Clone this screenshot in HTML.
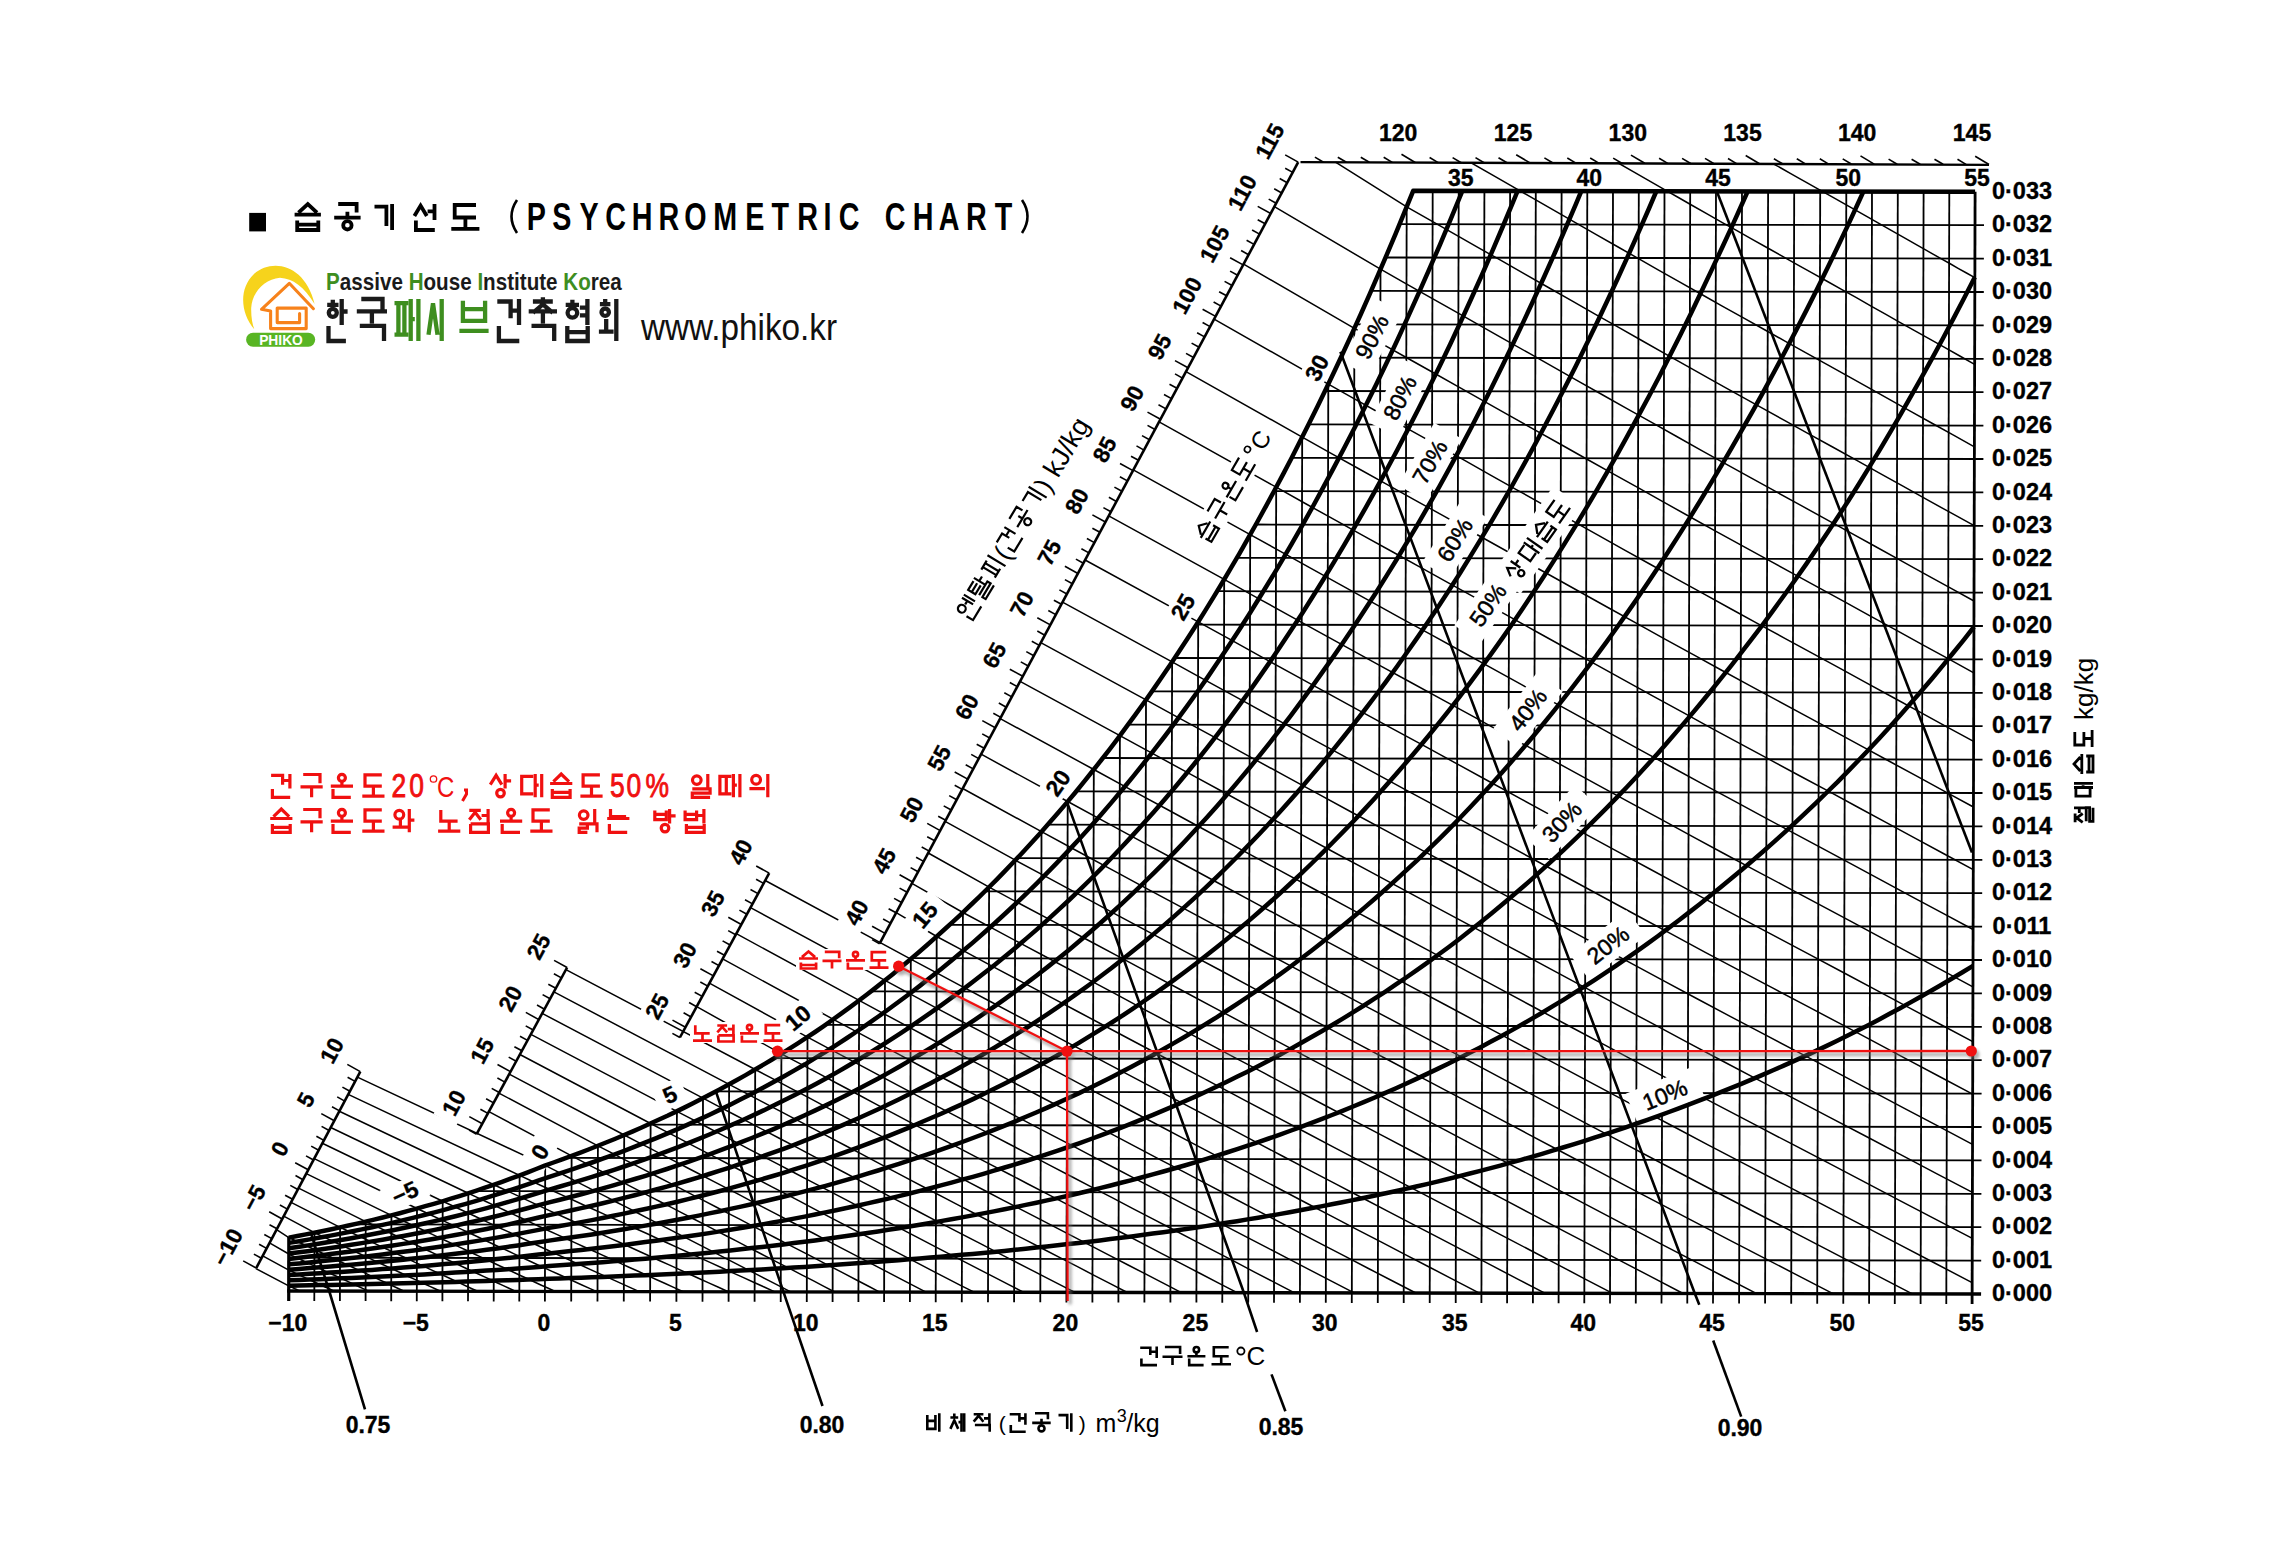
<!DOCTYPE html>
<html><head><meta charset="utf-8"><title>Psychrometric chart</title><style>html,body{margin:0;padding:0;background:#fff;width:2272px;height:1557px;overflow:hidden}</style></head>
<body><svg width="2272" height="1557" viewBox="0 0 2272 1557" style="display:block">
<rect width="2272" height="1557" fill="#fff"/>
<g><path d="M255.9,1268.6 L288.7,1285.8 L289.2,1286.0 L289.6,1286.2 L290.1,1286.5 L290.6,1286.7 L291.1,1286.9 L291.5,1287.1 L292.0,1287.3 L292.5,1287.5 L292.9,1287.8 L293.4,1288.0 L293.9,1288.2 L294.3,1288.4 L294.8,1288.6 L295.3,1288.8 L295.7,1289.1 L296.2,1289.3 L296.7,1289.5 L297.1,1289.7 L297.6,1289.9 L298.1,1290.2 L298.5,1290.4 L299.0,1290.6 L299.5,1290.8 L299.9,1291.0" fill="none" stroke="#000" stroke-width="1.5" /><path d="M262.7,1255.9 L288.8,1270.1 L290.6,1271.0 L292.5,1271.8 L294.4,1272.7 L296.3,1273.6 L298.2,1274.5 L300.0,1275.3 L301.9,1276.2 L303.8,1277.1 L305.7,1278.0 L307.6,1278.8 L309.5,1279.7 L311.3,1280.6 L313.2,1281.5 L315.1,1282.3 L317.0,1283.2 L318.9,1284.1 L320.7,1285.0 L322.6,1285.8 L324.5,1286.7 L326.4,1287.6 L328.3,1288.5 L330.2,1289.3 L332.0,1290.2 L333.9,1291.1" fill="none" stroke="#000" stroke-width="1.5" /><path d="M269.5,1242.9 L288.8,1254.0 L292.1,1255.6 L295.5,1257.1 L298.8,1258.7 L302.1,1260.2 L305.4,1261.8 L308.8,1263.3 L312.1,1264.9 L315.4,1266.4 L318.7,1268.0 L322.1,1269.5 L325.4,1271.1 L328.7,1272.6 L332.0,1274.2 L335.4,1275.7 L338.7,1277.2 L342.0,1278.8 L345.3,1280.3 L348.7,1281.9 L352.0,1283.4 L355.3,1285.0 L358.6,1286.5 L362.0,1288.1 L365.3,1289.6 L368.6,1291.1" fill="none" stroke="#000" stroke-width="1.5" /><path d="M276.6,1229.7 L288.8,1237.6 L293.6,1239.8 L298.4,1242.1 L303.2,1244.3 L308.1,1246.5 L312.9,1248.8 L317.7,1251.0 L322.5,1253.3 L327.3,1255.5 L332.1,1257.7 L336.9,1260.0 L341.7,1262.2 L346.5,1264.4 L351.3,1266.7 L356.1,1268.9 L360.9,1271.1 L365.7,1273.4 L370.5,1275.6 L375.3,1277.8 L380.1,1280.1 L384.9,1282.3 L389.7,1284.5 L394.5,1286.8 L399.3,1289.0 L404.1,1291.2" fill="none" stroke="#000" stroke-width="1.5" /><path d="M283.7,1216.1 L314.5,1232.7 L319.7,1235.1 L325.0,1237.6 L330.2,1240.0 L335.5,1242.5 L340.7,1244.9 L346.0,1247.4 L351.2,1249.8 L356.4,1252.2 L361.7,1254.7 L366.9,1257.1 L372.2,1259.6 L377.4,1262.0 L382.7,1264.5 L387.9,1266.9 L393.2,1269.3 L398.4,1271.8 L403.7,1274.2 L408.9,1276.7 L414.2,1279.1 L419.4,1281.5 L424.7,1284.0 L429.9,1286.4 L435.1,1288.8 L440.4,1291.3" fill="none" stroke="#000" stroke-width="1.5" /><path d="M291.1,1202.3 L340.1,1227.3 L345.8,1230.0 L351.6,1232.7 L357.3,1235.4 L363.0,1238.0 L368.8,1240.7 L374.5,1243.4 L380.2,1246.1 L385.9,1248.7 L391.7,1251.4 L397.4,1254.1 L403.1,1256.7 L408.9,1259.4 L414.6,1262.1 L420.3,1264.7 L426.0,1267.4 L431.8,1270.1 L437.5,1272.7 L443.2,1275.4 L449.0,1278.0 L454.7,1280.7 L460.4,1283.4 L466.1,1286.0 L471.9,1288.7 L477.6,1291.3" fill="none" stroke="#000" stroke-width="1.5" /><path d="M298.6,1188.1 L365.7,1221.6 L372.0,1224.5 L378.3,1227.4 L384.5,1230.3 L390.8,1233.2 L397.0,1236.2 L403.3,1239.1 L409.5,1242.0 L415.8,1244.9 L422.0,1247.8 L428.3,1250.7 L434.5,1253.6 L440.8,1256.6 L447.0,1259.5 L453.3,1262.4 L459.5,1265.3 L465.8,1268.2 L472.0,1271.1 L478.3,1274.0 L484.5,1276.9 L490.8,1279.8 L497.0,1282.7 L503.3,1285.6 L509.5,1288.5 L515.8,1291.4" fill="none" stroke="#000" stroke-width="1.5" /><path d="M306.3,1173.6 L391.4,1215.3 L398.2,1218.5 L405.0,1221.7 L411.8,1224.9 L418.7,1228.0 L425.5,1231.2 L432.3,1234.4 L439.1,1237.6 L445.9,1240.8 L452.7,1243.9 L459.6,1247.1 L466.4,1250.3 L473.2,1253.5 L480.0,1256.6 L486.8,1259.8 L493.6,1263.0 L500.5,1266.2 L507.3,1269.3 L514.1,1272.5 L520.9,1275.7 L527.7,1278.8 L534.5,1282.0 L541.4,1285.2 L548.3,1288.3 L555.3,1291.5" fill="none" stroke="#000" stroke-width="1.5" /><path d="M314.2,1158.7 L417.0,1208.5 L424.5,1212.0 L431.9,1215.5 L439.3,1218.9 L446.7,1222.4 L454.2,1225.9 L461.6,1229.4 L469.0,1232.8 L476.5,1236.3 L483.9,1239.8 L491.3,1243.2 L498.7,1246.7 L506.2,1250.1 L513.6,1253.6 L521.0,1257.1 L528.5,1260.5 L535.9,1264.0 L543.3,1267.4 L550.9,1270.9 L558.5,1274.3 L566.2,1277.8 L573.8,1281.2 L581.4,1284.7 L589.0,1288.1 L596.7,1291.6" fill="none" stroke="#000" stroke-width="1.5" /><path d="M322.3,1143.3 L442.7,1201.2 L450.8,1205.0 L458.8,1208.8 L466.9,1212.5 L475.0,1216.3 L483.1,1220.1 L491.2,1223.9 L499.3,1227.7 L507.4,1231.4 L515.5,1235.2 L523.6,1239.0 L531.7,1242.8 L539.8,1246.5 L547.9,1250.3 L556.2,1254.1 L564.6,1257.8 L572.9,1261.6 L581.2,1265.3 L589.5,1269.1 L597.8,1272.9 L606.1,1276.6 L614.4,1280.4 L622.7,1284.1 L631.0,1287.9 L639.3,1291.6" fill="none" stroke="#000" stroke-width="1.5" /><path d="M330.7,1127.5 L468.3,1193.3 L477.1,1197.4 L485.9,1201.5 L494.7,1205.6 L503.5,1209.7 L512.3,1213.9 L521.2,1218.0 L530.0,1222.1 L538.8,1226.2 L547.6,1230.3 L556.7,1234.4 L565.7,1238.5 L574.8,1242.6 L583.8,1246.7 L592.9,1250.8 L601.9,1254.9 L610.9,1259.0 L620.0,1263.1 L629.0,1267.2 L638.1,1271.3 L647.1,1275.4 L656.2,1279.5 L665.2,1283.5 L674.2,1287.6 L683.2,1291.7" fill="none" stroke="#000" stroke-width="1.5" /><path d="M339.3,1111.2 L493.9,1184.7 L503.5,1189.2 L513.1,1193.6 L522.7,1198.1 L532.3,1202.6 L541.9,1207.1 L551.6,1211.6 L561.4,1216.0 L571.3,1220.5 L581.1,1225.0 L591.0,1229.5 L600.8,1233.9 L610.6,1238.4 L620.5,1242.8 L630.3,1247.3 L640.1,1251.8 L650.0,1256.2 L659.8,1260.7 L669.7,1265.1 L679.5,1269.6 L689.2,1274.0 L699.0,1278.5 L708.7,1282.9 L718.5,1287.3 L728.2,1291.8" fill="none" stroke="#000" stroke-width="1.5" /><path d="M348.2,1094.4 L519.6,1175.4 L530.0,1180.3 L540.4,1185.2 L551.0,1190.0 L561.7,1194.9 L572.4,1199.8 L583.1,1204.7 L593.8,1209.5 L604.5,1214.4 L615.2,1219.3 L625.9,1224.1 L636.6,1229.0 L647.3,1233.8 L657.9,1238.7 L668.6,1243.5 L679.3,1248.4 L689.9,1253.2 L700.5,1258.1 L711.1,1262.9 L721.7,1267.7 L732.3,1272.6 L743.0,1277.4 L753.6,1282.2 L764.2,1287.0 L774.8,1291.9" fill="none" stroke="#000" stroke-width="1.5" /><path d="M357.4,1077.1 L545.2,1165.4 L555.5,1170.7 L565.8,1176.0 L576.0,1181.3 L586.3,1186.6 L596.6,1191.9 L606.9,1197.2 L617.1,1202.5 L627.4,1207.7 L637.7,1213.0 L647.9,1218.3 L658.2,1223.6 L668.5,1228.9 L678.7,1234.1 L688.9,1239.4 L699.1,1244.7 L709.3,1249.9 L719.5,1255.2 L729.6,1260.4 L739.8,1265.7 L750.0,1270.9 L760.2,1276.2 L770.4,1281.4 L780.6,1286.7 L790.7,1291.9" fill="none" stroke="#000" stroke-width="1.5" /><path d="M488.9,1111.6 L571.6,1155.9 L582.6,1161.6 L593.6,1167.3 L604.7,1173.0 L615.7,1178.7 L626.7,1184.4 L637.8,1190.1 L648.8,1195.8 L659.8,1201.5 L670.9,1207.2 L681.9,1212.8 L692.8,1218.5 L703.8,1224.2 L714.7,1229.9 L725.6,1235.5 L736.6,1241.2 L747.5,1246.8 L758.5,1252.5 L769.4,1258.1 L780.4,1263.8 L791.3,1269.4 L802.2,1275.1 L813.1,1280.7 L823.9,1286.3 L834.7,1292.0" fill="none" stroke="#000" stroke-width="1.5" /><path d="M498.9,1093.1 L597.9,1145.8 L609.7,1151.9 L621.6,1158.1 L633.4,1164.2 L645.3,1170.3 L657.1,1176.5 L669.0,1182.6 L680.8,1188.7 L692.6,1194.8 L704.3,1200.9 L716.1,1207.0 L727.8,1213.1 L739.6,1219.2 L751.3,1225.3 L763.1,1231.4 L774.8,1237.5 L786.6,1243.6 L798.3,1249.6 L810.0,1255.7 L821.7,1261.8 L833.3,1267.8 L844.9,1273.9 L856.5,1280.0 L868.1,1286.0 L879.7,1292.1" fill="none" stroke="#000" stroke-width="1.5" /><path d="M509.2,1074.1 L624.2,1135.0 L636.9,1141.6 L649.7,1148.2 L662.4,1154.8 L675.1,1161.4 L687.7,1168.0 L700.3,1174.5 L713.0,1181.1 L725.6,1187.7 L738.2,1194.2 L750.8,1200.8 L763.4,1207.4 L776.0,1213.9 L788.6,1220.5 L801.2,1227.0 L813.8,1233.5 L826.2,1240.1 L838.7,1246.6 L851.2,1253.1 L863.6,1259.6 L876.1,1266.1 L888.6,1272.6 L901.0,1279.1 L913.5,1285.6 L926.0,1292.1" fill="none" stroke="#000" stroke-width="1.5" /><path d="M519.9,1054.5 L650.6,1123.5 L664.2,1130.6 L677.8,1137.7 L691.4,1144.8 L704.9,1151.8 L718.4,1158.9 L732.0,1166.0 L745.5,1173.0 L759.0,1180.1 L772.5,1187.1 L786.1,1194.2 L799.6,1201.2 L813.1,1208.3 L826.4,1215.3 L839.8,1222.3 L853.2,1229.3 L866.6,1236.3 L879.9,1243.3 L893.3,1250.3 L906.7,1257.3 L920.1,1264.3 L933.4,1271.3 L947.0,1278.3 L960.5,1285.3 L974.1,1292.2" fill="none" stroke="#000" stroke-width="1.5" /><path d="M530.9,1034.3 L676.9,1111.3 L691.4,1118.9 L705.9,1126.5 L720.4,1134.1 L734.9,1141.7 L749.4,1149.3 L763.9,1156.9 L778.4,1164.4 L792.9,1172.0 L807.4,1179.6 L821.8,1187.1 L836.1,1194.7 L850.5,1202.2 L864.8,1209.8 L879.1,1217.3 L893.5,1224.8 L907.8,1232.4 L922.2,1239.9 L936.5,1247.4 L951.0,1254.9 L965.6,1262.4 L980.1,1269.9 L994.7,1277.4 L1009.2,1284.8 L1023.8,1292.3" fill="none" stroke="#000" stroke-width="1.5" /><path d="M542.2,1013.4 L703.0,1098.2 L718.5,1106.4 L734.1,1114.5 L749.6,1122.7 L765.2,1130.9 L780.7,1139.0 L796.3,1147.1 L811.8,1155.3 L827.1,1163.4 L842.5,1171.5 L857.9,1179.6 L873.2,1187.7 L888.6,1195.8 L904.0,1203.9 L919.3,1212.0 L934.7,1220.1 L950.3,1228.1 L965.8,1236.2 L981.4,1244.2 L997.0,1252.3 L1012.6,1260.3 L1028.2,1268.3 L1043.7,1276.4 L1059.3,1284.4 L1074.9,1292.4" fill="none" stroke="#000" stroke-width="1.5" /><path d="M553.9,991.9 L729.1,1084.3 L745.8,1093.1 L762.4,1101.8 L779.1,1110.6 L795.7,1119.3 L812.3,1128.1 L828.8,1136.8 L845.2,1145.5 L861.7,1154.2 L878.1,1162.9 L894.6,1171.6 L911.1,1180.3 L927.5,1189.0 L944.1,1197.7 L960.8,1206.3 L977.5,1215.0 L994.1,1223.6 L1010.8,1232.3 L1027.5,1240.9 L1044.2,1249.5 L1060.9,1258.1 L1077.5,1266.7 L1094.1,1275.3 L1110.7,1283.9 L1127.3,1292.5" fill="none" stroke="#000" stroke-width="1.5" /><path d="M565.9,969.6 L755.2,1069.5 L773.1,1078.9 L790.9,1088.3 L808.7,1097.7 L826.3,1107.1 L843.9,1116.4 L861.5,1125.8 L879.2,1135.1 L896.8,1144.5 L914.4,1153.8 L932.0,1163.1 L949.8,1172.4 L967.7,1181.7 L985.6,1191.0 L1003.4,1200.3 L1021.3,1209.6 L1039.2,1218.8 L1057.0,1228.1 L1074.8,1237.3 L1092.6,1246.6 L1110.4,1255.8 L1128.1,1265.0 L1145.9,1274.2 L1163.7,1283.4 L1181.4,1292.6" fill="none" stroke="#000" stroke-width="1.5" /><path d="M696.7,1006.7 L781.4,1053.8 L800.4,1063.9 L819.4,1073.9 L838.2,1084.0 L857.1,1094.0 L875.9,1104.1 L894.8,1114.1 L913.6,1124.1 L932.5,1134.1 L951.5,1144.1 L970.6,1154.1 L989.8,1164.1 L1008.9,1174.0 L1028.0,1184.0 L1047.1,1193.9 L1066.2,1203.8 L1085.2,1213.7 L1104.2,1223.6 L1123.3,1233.5 L1142.3,1243.4 L1161.3,1253.3 L1180.3,1263.2 L1199.3,1273.0 L1218.2,1282.9 L1237.1,1292.7" fill="none" stroke="#000" stroke-width="1.5" /><path d="M709.4,983.2 L807.5,1037.1 L827.6,1047.9 L847.8,1058.6 L868.0,1069.4 L888.1,1080.2 L908.3,1090.9 L928.4,1101.7 L948.8,1112.4 L969.2,1123.1 L989.7,1133.8 L1010.1,1144.5 L1030.5,1155.2 L1051.0,1165.8 L1071.4,1176.5 L1091.7,1187.1 L1112.1,1197.7 L1132.4,1208.3 L1152.7,1218.9 L1173.1,1229.5 L1193.4,1240.1 L1213.6,1250.7 L1233.9,1261.2 L1254.1,1271.8 L1274.4,1282.3 L1294.6,1292.8" fill="none" stroke="#000" stroke-width="1.5" /><path d="M722.6,958.9 L833.3,1019.3 L854.9,1030.8 L876.4,1042.4 L898.0,1053.9 L919.5,1065.5 L941.1,1077.0 L963.0,1088.5 L984.8,1099.9 L1006.7,1111.4 L1028.5,1122.8 L1050.4,1134.3 L1072.2,1145.7 L1093.9,1157.1 L1115.7,1168.5 L1137.4,1179.9 L1159.1,1191.2 L1180.9,1202.6 L1202.6,1213.9 L1224.2,1225.3 L1245.8,1236.6 L1267.5,1247.9 L1289.1,1259.1 L1310.7,1270.4 L1332.4,1281.7 L1354.1,1292.9" fill="none" stroke="#000" stroke-width="1.5" /><path d="M736.3,933.7 L859.1,1000.4 L882.2,1012.8 L905.2,1025.1 L928.2,1037.5 L951.4,1049.8 L974.8,1062.1 L998.1,1074.4 L1021.5,1086.7 L1044.8,1099.0 L1068.2,1111.2 L1091.4,1123.5 L1114.6,1135.7 L1137.8,1147.9 L1161.0,1160.1 L1184.3,1172.2 L1207.4,1184.4 L1230.5,1196.5 L1253.6,1208.6 L1276.8,1220.7 L1299.9,1232.8 L1323.0,1244.9 L1346.2,1256.9 L1369.4,1269.0 L1392.6,1281.0 L1415.8,1293.0" fill="none" stroke="#000" stroke-width="1.5" /><path d="M750.5,907.6 L885.0,980.4 L909.6,993.6 L934.2,1006.8 L959.0,1020.0 L984.0,1033.2 L1008.9,1046.4 L1033.8,1059.6 L1058.8,1072.7 L1083.6,1085.8 L1108.4,1098.9 L1133.2,1112.0 L1158.0,1125.0 L1182.8,1138.1 L1207.5,1151.1 L1232.2,1164.1 L1256.9,1177.1 L1281.6,1190.0 L1306.3,1203.0 L1331.0,1215.9 L1355.7,1228.8 L1380.5,1241.7 L1405.3,1254.6 L1430.1,1267.5 L1454.8,1280.3 L1479.4,1293.1" fill="none" stroke="#000" stroke-width="1.5" /><path d="M765.2,880.5 L910.8,959.1 L937.1,973.2 L963.7,987.4 L990.3,1001.5 L1016.9,1015.6 L1043.5,1029.7 L1070.1,1043.8 L1096.6,1057.8 L1123.0,1071.8 L1149.5,1085.8 L1176.0,1099.8 L1202.4,1113.7 L1228.8,1127.7 L1255.1,1141.6 L1281.4,1155.5 L1307.8,1169.3 L1334.2,1183.2 L1360.6,1197.0 L1387.1,1210.8 L1413.5,1224.6 L1440.0,1238.4 L1466.3,1252.1 L1492.5,1265.9 L1518.7,1279.6 L1544.8,1293.2" fill="none" stroke="#000" stroke-width="1.5" /><path d="M896.2,912.6 L936.7,936.5 L965.1,951.6 L993.4,966.8 L1021.8,981.9 L1050.2,996.9 L1078.6,1012.0 L1106.8,1027.0 L1135.0,1042.0 L1163.3,1057.0 L1191.5,1071.9 L1219.6,1086.9 L1247.7,1101.8 L1275.9,1116.7 L1304.0,1131.5 L1332.1,1146.3 L1360.3,1161.2 L1388.5,1175.9 L1416.7,1190.7 L1445.0,1205.4 L1473.0,1220.1 L1500.9,1234.8 L1528.9,1249.5 L1556.8,1264.1 L1584.7,1278.8 L1612.7,1293.4" fill="none" stroke="#000" stroke-width="1.5" /><path d="M911.9,883.4 L962.9,912.5 L993.1,928.7 L1023.4,944.9 L1053.7,961.0 L1083.9,977.1 L1114.0,993.2 L1144.1,1009.3 L1174.2,1025.3 L1204.3,1041.3 L1234.3,1057.3 L1264.3,1073.2 L1294.2,1089.1 L1324.2,1105.0 L1354.3,1120.8 L1384.4,1136.7 L1414.5,1152.5 L1444.6,1168.3 L1474.5,1184.0 L1504.3,1199.7 L1534.1,1215.4 L1563.9,1231.1 L1593.7,1246.7 L1623.5,1262.3 L1653.3,1277.9 L1683.1,1293.5" fill="none" stroke="#000" stroke-width="1.5" /><path d="M928.2,853.0 L989.1,887.2 L1021.3,904.5 L1053.6,921.7 L1085.8,939.0 L1117.9,956.2 L1150.0,973.3 L1182.1,990.5 L1214.1,1007.6 L1246.1,1024.6 L1278.0,1041.7 L1310.0,1058.7 L1342.0,1075.7 L1374.1,1092.6 L1406.2,1109.6 L1438.2,1126.4 L1470.2,1143.3 L1501.9,1160.1 L1533.7,1176.9 L1565.4,1193.7 L1597.2,1210.4 L1629.0,1227.1 L1660.8,1243.8 L1692.6,1260.4 L1724.5,1277.0 L1756.7,1293.6" fill="none" stroke="#000" stroke-width="1.5" /><path d="M945.1,821.4 L1015.3,860.2 L1049.7,878.7 L1084.0,897.2 L1118.2,915.6 L1152.4,933.9 L1186.6,952.3 L1220.7,970.5 L1254.7,988.8 L1288.8,1007.0 L1322.8,1025.2 L1357.0,1043.4 L1391.2,1061.5 L1425.4,1079.6 L1459.5,1097.6 L1493.4,1115.6 L1527.2,1133.6 L1561.0,1151.5 L1594.9,1169.4 L1628.7,1187.3 L1662.6,1205.1 L1696.5,1222.9 L1730.5,1240.7 L1764.8,1258.4 L1799.1,1276.1 L1833.4,1293.8" fill="none" stroke="#000" stroke-width="1.5" /><path d="M962.7,788.5 L1041.5,831.7 L1078.1,851.5 L1114.5,871.1 L1150.9,890.8 L1187.4,910.4 L1223.7,929.9 L1259.9,949.5 L1296.2,968.9 L1332.5,988.4 L1368.9,1007.8 L1405.3,1027.1 L1441.7,1046.4 L1477.9,1065.7 L1513.9,1084.9 L1550.0,1104.1 L1586.0,1123.3 L1622.1,1142.4 L1658.2,1161.5 L1694.2,1180.5 L1730.5,1199.5 L1767.0,1218.5 L1803.6,1237.4 L1840.1,1256.3 L1876.2,1275.1 L1912.3,1293.9" fill="none" stroke="#000" stroke-width="1.5" /><path d="M981.1,754.2 L1067.7,801.5 L1105.6,822.1 L1143.4,842.6 L1181.3,863.0 L1219.1,883.5 L1256.8,903.8 L1294.4,924.2 L1332.2,944.4 L1370.0,964.7 L1407.8,984.9 L1445.7,1005.0 L1483.2,1025.1 L1520.7,1045.2 L1558.1,1065.2 L1595.6,1085.2 L1633.1,1105.1 L1670.6,1125.0 L1708.0,1144.8 L1745.9,1164.7 L1783.9,1184.4 L1821.8,1204.1 L1859.6,1223.8 L1897.1,1243.4 L1934.6,1263.0 L1972.1,1282.6" fill="none" stroke="#000" stroke-width="1.5" /><path d="M1000.2,718.6 L1093.8,769.5 L1130.6,789.6 L1167.4,809.5 L1204.1,829.5 L1240.7,849.4 L1277.3,869.2 L1314.0,889.0 L1350.7,908.8 L1387.4,928.5 L1424.2,948.2 L1460.9,967.8 L1497.2,987.4 L1533.6,1007.0 L1570.0,1026.5 L1606.4,1045.9 L1642.8,1065.4 L1679.2,1084.8 L1715.7,1104.1 L1752.5,1123.4 L1789.4,1142.7 L1826.3,1161.9 L1862.9,1181.1 L1899.4,1200.3 L1935.8,1219.4 L1972.3,1238.4" fill="none" stroke="#000" stroke-width="1.5" /><path d="M1020.1,681.4 L1119.9,735.7 L1155.6,755.2 L1191.3,774.6 L1226.9,794.0 L1262.4,813.4 L1297.9,832.7 L1333.5,852.0 L1369.2,871.2 L1404.8,890.4 L1440.5,909.6 L1476.0,928.7 L1511.3,947.8 L1546.6,966.8 L1581.9,985.8 L1617.3,1004.8 L1652.6,1023.7 L1687.9,1042.6 L1723.4,1061.5 L1759.2,1080.3 L1795.0,1099.1 L1830.7,1117.8 L1866.3,1136.5 L1901.6,1155.2 L1937.0,1173.8 L1972.4,1192.4" fill="none" stroke="#000" stroke-width="1.5" /><path d="M1040.8,642.6 L1146.0,699.9 L1180.6,718.8 L1215.2,737.7 L1249.6,756.6 L1284.1,775.4 L1318.5,794.2 L1353.1,813.0 L1387.7,831.7 L1422.3,850.4 L1456.8,869.0 L1491.1,887.6 L1525.3,906.2 L1559.6,924.7 L1593.8,943.2 L1628.1,961.7 L1662.4,980.1 L1696.6,998.5 L1731.1,1016.8 L1765.8,1035.2 L1800.5,1053.4 L1835.2,1071.7 L1869.6,1089.9 L1903.9,1108.1 L1938.2,1126.2 L1972.5,1144.3" fill="none" stroke="#000" stroke-width="1.5" /><path d="M1062.5,602.2 L1172.1,661.9 L1205.6,680.4 L1239.0,698.7 L1272.4,717.1 L1305.7,735.4 L1339.2,753.6 L1372.7,771.9 L1406.2,790.1 L1439.7,808.2 L1473.0,826.4 L1506.2,844.4 L1539.4,862.5 L1572.6,880.5 L1605.7,898.5 L1638.9,916.5 L1672.1,934.4 L1705.3,952.3 L1738.8,970.1 L1772.5,987.9 L1806.1,1005.7 L1839.7,1023.4 L1873.0,1041.1 L1906.2,1058.8 L1939.4,1076.5 L1972.6,1094.1" fill="none" stroke="#000" stroke-width="1.5" /><path d="M1085.1,560.0 L1198.2,621.8 L1230.5,639.7 L1262.8,657.6 L1295.1,675.4 L1327.4,693.1 L1359.8,710.9 L1392.3,728.6 L1424.7,746.2 L1457.1,763.9 L1489.2,781.5 L1521.3,799.1 L1553.4,816.6 L1585.5,834.1 L1617.7,851.6 L1649.8,869.0 L1681.9,886.4 L1714.1,903.8 L1746.6,921.1 L1779.1,938.4 L1811.6,955.7 L1844.2,973.0 L1876.3,990.2 L1908.5,1007.4 L1940.6,1024.5 L1972.8,1041.6" fill="none" stroke="#000" stroke-width="1.5" /><path d="M1108.7,515.9 L1224.2,579.4 L1255.4,596.8 L1286.7,614.1 L1317.9,631.3 L1349.2,648.6 L1380.5,665.8 L1411.9,683.0 L1443.2,700.1 L1474.4,717.2 L1505.4,734.3 L1536.5,751.3 L1567.5,768.4 L1598.5,785.4 L1629.6,802.3 L1660.7,819.2 L1691.7,836.1 L1722.9,853.0 L1754.3,869.8 L1785.8,886.6 L1817.2,903.4 L1848.6,920.2 L1879.7,936.9 L1910.8,953.6 L1941.8,970.2 L1972.9,986.8" fill="none" stroke="#000" stroke-width="1.5" /><path d="M1133.3,469.9 L1250.2,534.6 L1280.4,551.4 L1310.5,568.2 L1340.7,584.9 L1371.0,601.6 L1401.2,618.3 L1431.5,634.9 L1461.7,651.5 L1491.7,668.1 L1521.6,684.7 L1551.6,701.2 L1581.6,717.7 L1611.5,734.2 L1641.5,750.6 L1671.5,767.0 L1701.5,783.4 L1731.7,799.7 L1762.1,816.1 L1792.4,832.4 L1822.8,848.6 L1853.0,864.9 L1883.1,881.1 L1913.1,897.3 L1943.1,913.4 L1973.1,929.5" fill="none" stroke="#000" stroke-width="1.5" /><path d="M1159.1,421.8 L1276.2,487.2 L1305.3,503.5 L1334.4,519.7 L1363.6,535.9 L1392.8,552.0 L1421.9,568.2 L1451.1,584.3 L1480.1,600.4 L1509.0,616.4 L1537.9,632.5 L1566.8,648.5 L1595.7,664.4 L1624.6,680.4 L1653.5,696.3 L1682.4,712.2 L1711.3,728.1 L1740.5,743.9 L1769.8,759.7 L1799.1,775.5 L1828.4,791.2 L1857.5,807.0 L1886.4,822.7 L1915.4,838.4 L1944.3,854.0 L1973.2,869.6" fill="none" stroke="#000" stroke-width="1.5" /><path d="M1186.0,371.6 L1302.2,437.1 L1330.2,452.8 L1358.3,468.5 L1386.4,484.2 L1414.5,499.8 L1442.6,515.4 L1470.6,531.0 L1498.4,546.5 L1526.3,562.0 L1554.1,577.5 L1581.9,593.0 L1609.7,608.5 L1637.6,623.9 L1665.4,639.3 L1693.3,654.6 L1721.2,670.0 L1749.4,685.3 L1777.6,700.6 L1805.8,715.9 L1834.0,731.1 L1862.0,746.3 L1889.8,761.5 L1917.7,776.7 L1945.5,791.9 L1973.4,807.0" fill="none" stroke="#000" stroke-width="1.5" /><path d="M1214.1,319.1 L1328.3,384.2 L1355.3,399.4 L1382.3,414.5 L1409.3,429.6 L1436.3,444.7 L1463.3,459.7 L1490.1,474.8 L1516.8,489.8 L1543.6,504.8 L1570.3,519.7 L1597.1,534.7 L1623.8,549.6 L1650.6,564.5 L1677.4,579.4 L1704.2,594.2 L1731.1,609.0 L1758.2,623.8 L1785.3,638.6 L1812.5,653.4 L1839.6,668.1 L1866.4,682.8 L1893.2,697.5 L1920.0,712.2 L1946.8,726.8 L1973.6,741.4" fill="none" stroke="#000" stroke-width="1.5" /><path d="M1243.6,264.1 L1354.4,328.3 L1380.3,342.9 L1406.3,357.5 L1432.2,372.0 L1458.1,386.6 L1483.8,401.1 L1509.5,415.6 L1535.2,430.1 L1560.9,444.5 L1586.6,459.0 L1612.3,473.4 L1638.0,487.7 L1663.7,502.1 L1689.4,516.5 L1715.1,530.8 L1741.1,545.1 L1767.1,559.4 L1793.1,573.6 L1819.1,587.8 L1845.2,602.1 L1870.9,616.3 L1896.6,630.4 L1922.3,644.6 L1948.1,658.7 L1973.8,672.8" fill="none" stroke="#000" stroke-width="1.5" /><path d="M1274.4,206.6 L1380.5,269.2 L1405.4,283.3 L1430.2,297.3 L1455.1,311.3 L1479.7,325.3 L1504.4,339.3 L1529.0,353.2 L1553.6,367.2 L1578.2,381.1 L1602.8,395.0 L1627.4,408.9 L1652.1,422.7 L1676.7,436.5 L1701.3,450.3 L1726.1,464.1 L1751.0,477.9 L1776.0,491.7 L1800.9,505.4 L1825.8,519.1 L1850.7,532.8 L1875.4,546.5 L1900.0,560.1 L1924.7,573.8 L1949.3,587.4 L1974.0,601.0" fill="none" stroke="#000" stroke-width="1.5" /><path d="M1335.5,162.2 L1406.7,206.8 L1430.5,220.3 L1454.2,233.8 L1477.8,247.3 L1501.4,260.7 L1524.9,274.1 L1548.4,287.5 L1572.0,300.9 L1595.5,314.3 L1619.1,327.7 L1642.6,341.0 L1666.2,354.3 L1689.8,367.6 L1713.3,380.9 L1737.1,394.1 L1761.0,407.4 L1784.9,420.6 L1808.7,433.8 L1832.6,447.0 L1856.3,460.2 L1879.9,473.3 L1903.4,486.4 L1927.0,499.6 L1950.6,512.7 L1974.2,525.7" fill="none" stroke="#000" stroke-width="1.5" /><path d="M1476.2,162.7 L1470.9,162.7 L1491.8,174.7 L1512.7,186.7 L1533.6,198.7 L1554.5,210.7 L1575.4,222.6 L1596.3,234.6 L1617.2,246.5 L1638.1,258.4 L1659.0,270.3 L1679.9,282.2 L1700.9,294.0 L1721.8,305.9 L1743.0,317.7 L1764.2,329.5 L1785.4,341.3 L1806.5,353.1 L1827.7,364.9 L1848.8,376.6 L1869.8,388.4 L1890.7,400.1 L1911.6,411.8 L1932.5,423.5 L1953.5,435.2 L1974.4,446.9" fill="none" stroke="#000" stroke-width="1.5" /><path d="M1623.5,163.2 L1618.5,163.2 L1633.2,171.7 L1648.0,180.1 L1662.8,188.6 L1677.5,197.0 L1692.3,205.5 L1707.1,213.9 L1721.9,222.3 L1736.9,230.7 L1751.8,239.1 L1766.8,247.5 L1781.7,255.9 L1796.7,264.3 L1811.6,272.7 L1826.6,281.0 L1841.5,289.4 L1856.4,297.7 L1871.1,306.1 L1885.9,314.4 L1900.7,322.8 L1915.5,331.1 L1930.3,339.4 L1945.0,347.7 L1959.8,356.0 L1974.6,364.3" fill="none" stroke="#000" stroke-width="1.5" /><path d="M1777.9,163.8 L1773.3,163.8 L1781.8,168.5 L1790.3,173.3 L1798.7,178.1 L1807.2,182.9 L1815.6,187.6 L1824.1,192.4 L1832.6,197.1 L1841.0,201.9 L1849.4,206.7 L1857.8,211.4 L1866.2,216.2 L1874.5,220.9 L1882.9,225.6 L1891.2,230.4 L1899.6,235.1 L1908.0,239.9 L1916.3,244.6 L1924.7,249.3 L1933.0,254.1 L1941.4,258.8 L1949.8,263.5 L1958.1,268.3 L1966.5,273.0 L1974.8,277.7" fill="none" stroke="#000" stroke-width="1.5" /></g>
<g><line x1="314.3" y1="1301.0" x2="314.5" y2="1232.7" stroke="#000" stroke-width="1.8" /><line x1="339.9" y1="1301.1" x2="340.1" y2="1227.3" stroke="#000" stroke-width="1.8" /><line x1="365.6" y1="1301.1" x2="365.7" y2="1221.6" stroke="#000" stroke-width="1.8" /><line x1="391.2" y1="1301.2" x2="391.4" y2="1215.3" stroke="#000" stroke-width="1.8" /><line x1="416.8" y1="1301.2" x2="417.0" y2="1208.5" stroke="#000" stroke-width="1.8" /><line x1="442.4" y1="1301.3" x2="442.7" y2="1201.2" stroke="#000" stroke-width="1.8" /><line x1="468.0" y1="1301.3" x2="468.3" y2="1193.3" stroke="#000" stroke-width="1.8" /><line x1="493.7" y1="1301.4" x2="493.9" y2="1184.7" stroke="#000" stroke-width="1.8" /><line x1="519.3" y1="1301.4" x2="519.6" y2="1175.4" stroke="#000" stroke-width="1.8" /><line x1="544.9" y1="1301.5" x2="545.2" y2="1165.4" stroke="#000" stroke-width="1.8" /><line x1="571.2" y1="1301.5" x2="571.6" y2="1155.9" stroke="#000" stroke-width="1.8" /><line x1="597.5" y1="1301.6" x2="597.9" y2="1145.8" stroke="#000" stroke-width="1.8" /><line x1="623.8" y1="1301.6" x2="624.2" y2="1135.0" stroke="#000" stroke-width="1.8" /><line x1="650.1" y1="1301.6" x2="650.6" y2="1123.5" stroke="#000" stroke-width="1.8" /><line x1="676.4" y1="1301.7" x2="676.9" y2="1111.3" stroke="#000" stroke-width="1.8" /><line x1="702.5" y1="1301.7" x2="703.0" y2="1098.2" stroke="#000" stroke-width="1.8" /><line x1="728.6" y1="1301.8" x2="729.1" y2="1084.3" stroke="#000" stroke-width="1.8" /><line x1="754.6" y1="1301.8" x2="755.2" y2="1069.5" stroke="#000" stroke-width="1.8" /><line x1="780.7" y1="1301.9" x2="781.4" y2="1053.8" stroke="#000" stroke-width="1.8" /><line x1="806.8" y1="1301.9" x2="807.5" y2="1037.1" stroke="#000" stroke-width="1.8" /><line x1="832.6" y1="1302.0" x2="833.3" y2="1019.3" stroke="#000" stroke-width="1.8" /><line x1="858.4" y1="1302.0" x2="859.1" y2="1000.4" stroke="#000" stroke-width="1.8" /><line x1="884.1" y1="1302.1" x2="885.0" y2="980.4" stroke="#000" stroke-width="1.8" /><line x1="909.9" y1="1302.1" x2="910.8" y2="959.1" stroke="#000" stroke-width="1.8" /><line x1="935.7" y1="1302.2" x2="936.7" y2="936.5" stroke="#000" stroke-width="1.8" /><line x1="961.8" y1="1302.2" x2="962.9" y2="912.5" stroke="#000" stroke-width="1.8" /><line x1="988.0" y1="1302.2" x2="989.1" y2="887.2" stroke="#000" stroke-width="1.8" /><line x1="1014.1" y1="1302.3" x2="1015.3" y2="860.2" stroke="#000" stroke-width="1.8" /><line x1="1040.3" y1="1302.3" x2="1041.5" y2="831.7" stroke="#000" stroke-width="1.8" /><line x1="1066.4" y1="1302.4" x2="1067.7" y2="801.5" stroke="#000" stroke-width="1.8" /><line x1="1092.4" y1="1302.4" x2="1093.8" y2="769.5" stroke="#000" stroke-width="1.8" /><line x1="1118.4" y1="1302.5" x2="1119.9" y2="735.7" stroke="#000" stroke-width="1.8" /><line x1="1144.4" y1="1302.5" x2="1146.0" y2="699.9" stroke="#000" stroke-width="1.8" /><line x1="1170.4" y1="1302.6" x2="1172.1" y2="661.9" stroke="#000" stroke-width="1.8" /><line x1="1196.4" y1="1302.6" x2="1198.2" y2="621.8" stroke="#000" stroke-width="1.8" /><line x1="1222.3" y1="1302.7" x2="1224.2" y2="579.4" stroke="#000" stroke-width="1.8" /><line x1="1248.2" y1="1302.7" x2="1250.2" y2="534.6" stroke="#000" stroke-width="1.8" /><line x1="1274.0" y1="1302.8" x2="1276.2" y2="487.2" stroke="#000" stroke-width="1.8" /><line x1="1299.9" y1="1302.8" x2="1302.2" y2="437.1" stroke="#000" stroke-width="1.8" /><line x1="1325.8" y1="1302.8" x2="1328.3" y2="384.2" stroke="#000" stroke-width="1.8" /><line x1="1351.8" y1="1302.9" x2="1354.4" y2="328.3" stroke="#000" stroke-width="1.8" /><line x1="1377.8" y1="1302.9" x2="1380.5" y2="269.2" stroke="#000" stroke-width="1.8" /><line x1="1403.7" y1="1303.0" x2="1406.7" y2="206.8" stroke="#000" stroke-width="1.8" /><line x1="1429.7" y1="1303.0" x2="1432.7" y2="190.8" stroke="#000" stroke-width="1.8" /><line x1="1455.7" y1="1303.1" x2="1458.7" y2="190.9" stroke="#000" stroke-width="1.8" /><line x1="1481.4" y1="1303.1" x2="1484.4" y2="190.9" stroke="#000" stroke-width="1.8" /><line x1="1507.1" y1="1303.2" x2="1510.1" y2="191.0" stroke="#000" stroke-width="1.8" /><line x1="1532.9" y1="1303.2" x2="1535.8" y2="191.0" stroke="#000" stroke-width="1.8" /><line x1="1558.6" y1="1303.3" x2="1561.6" y2="191.1" stroke="#000" stroke-width="1.8" /><line x1="1584.3" y1="1303.3" x2="1587.3" y2="191.1" stroke="#000" stroke-width="1.8" /><line x1="1610.0" y1="1303.4" x2="1613.0" y2="191.2" stroke="#000" stroke-width="1.8" /><line x1="1635.8" y1="1303.4" x2="1638.8" y2="191.2" stroke="#000" stroke-width="1.8" /><line x1="1661.5" y1="1303.4" x2="1664.5" y2="191.2" stroke="#000" stroke-width="1.8" /><line x1="1687.3" y1="1303.5" x2="1690.2" y2="191.3" stroke="#000" stroke-width="1.8" /><line x1="1713.0" y1="1303.5" x2="1716.0" y2="191.3" stroke="#000" stroke-width="1.8" /><line x1="1739.1" y1="1303.6" x2="1742.0" y2="191.4" stroke="#000" stroke-width="1.8" /><line x1="1765.1" y1="1303.6" x2="1768.1" y2="191.4" stroke="#000" stroke-width="1.8" /><line x1="1791.2" y1="1303.7" x2="1794.2" y2="191.5" stroke="#000" stroke-width="1.8" /><line x1="1817.2" y1="1303.7" x2="1820.2" y2="191.5" stroke="#000" stroke-width="1.8" /><line x1="1843.3" y1="1303.8" x2="1846.3" y2="191.6" stroke="#000" stroke-width="1.8" /><line x1="1869.1" y1="1303.8" x2="1872.0" y2="191.6" stroke="#000" stroke-width="1.8" /><line x1="1894.8" y1="1303.9" x2="1897.8" y2="191.7" stroke="#000" stroke-width="1.8" /><line x1="1920.6" y1="1303.9" x2="1923.6" y2="191.7" stroke="#000" stroke-width="1.8" /><line x1="1946.3" y1="1304.0" x2="1949.3" y2="191.8" stroke="#000" stroke-width="1.8" /><line x1="288.8" y1="1257.6" x2="1981.2" y2="1260.6" stroke="#000" stroke-width="1.8" /><line x1="353.8" y1="1224.3" x2="1981.3" y2="1227.2" stroke="#000" stroke-width="1.8" /><line x1="474.8" y1="1191.1" x2="1981.4" y2="1193.8" stroke="#000" stroke-width="1.8" /><line x1="566.2" y1="1157.9" x2="1981.5" y2="1160.4" stroke="#000" stroke-width="1.8" /><line x1="648.0" y1="1124.6" x2="1981.6" y2="1127.0" stroke="#000" stroke-width="1.8" /><line x1="716.1" y1="1091.4" x2="1981.6" y2="1093.6" stroke="#000" stroke-width="1.8" /><line x1="774.4" y1="1058.1" x2="1981.7" y2="1060.2" stroke="#000" stroke-width="1.8" /><line x1="825.5" y1="1024.8" x2="1981.8" y2="1026.8" stroke="#000" stroke-width="1.8" /><line x1="870.9" y1="991.4" x2="1981.9" y2="993.4" stroke="#000" stroke-width="1.8" /><line x1="912.0" y1="958.1" x2="1982.0" y2="960.0" stroke="#000" stroke-width="1.8" /><line x1="949.7" y1="924.8" x2="1982.1" y2="926.6" stroke="#000" stroke-width="1.8" /><line x1="984.8" y1="891.4" x2="1982.2" y2="893.2" stroke="#000" stroke-width="1.8" /><line x1="1017.3" y1="858.1" x2="1982.3" y2="859.8" stroke="#000" stroke-width="1.8" /><line x1="1047.7" y1="824.7" x2="1982.4" y2="826.4" stroke="#000" stroke-width="1.8" /><line x1="1076.1" y1="791.4" x2="1982.5" y2="793.0" stroke="#000" stroke-width="1.8" /><line x1="1102.8" y1="758.0" x2="1982.5" y2="759.6" stroke="#000" stroke-width="1.8" /><line x1="1128.1" y1="724.7" x2="1982.6" y2="726.2" stroke="#000" stroke-width="1.8" /><line x1="1152.0" y1="691.3" x2="1982.7" y2="692.8" stroke="#000" stroke-width="1.8" /><line x1="1174.8" y1="658.0" x2="1982.8" y2="659.4" stroke="#000" stroke-width="1.8" /><line x1="1196.5" y1="624.6" x2="1982.9" y2="626.0" stroke="#000" stroke-width="1.8" /><line x1="1217.1" y1="591.2" x2="1983.0" y2="592.6" stroke="#000" stroke-width="1.8" /><line x1="1236.9" y1="557.9" x2="1983.1" y2="559.2" stroke="#000" stroke-width="1.8" /><line x1="1255.9" y1="524.5" x2="1983.2" y2="525.8" stroke="#000" stroke-width="1.8" /><line x1="1274.1" y1="491.2" x2="1983.3" y2="492.4" stroke="#000" stroke-width="1.8" /><line x1="1291.7" y1="457.8" x2="1983.4" y2="459.0" stroke="#000" stroke-width="1.8" /><line x1="1308.6" y1="424.4" x2="1983.4" y2="425.6" stroke="#000" stroke-width="1.8" /><line x1="1325.0" y1="391.0" x2="1983.5" y2="392.2" stroke="#000" stroke-width="1.8" /><line x1="1340.8" y1="357.7" x2="1983.6" y2="358.8" stroke="#000" stroke-width="1.8" /><line x1="1356.2" y1="324.3" x2="1983.7" y2="325.4" stroke="#000" stroke-width="1.8" /><line x1="1371.1" y1="290.9" x2="1983.8" y2="292.0" stroke="#000" stroke-width="1.8" /><line x1="1385.5" y1="257.5" x2="1983.9" y2="258.6" stroke="#000" stroke-width="1.8" /><line x1="1399.5" y1="224.2" x2="1984.0" y2="225.2" stroke="#000" stroke-width="1.8" /></g>
<g><line x1="1300.5" y1="162.1" x2="1989.0" y2="164.9" stroke="#000" stroke-width="2.4" /><line x1="1323.5" y1="162.2" x2="1314.9" y2="157.1" stroke="#000" stroke-width="1.6" /><line x1="1346.4" y1="162.3" x2="1337.8" y2="157.2" stroke="#000" stroke-width="1.6" /><line x1="1369.3" y1="162.3" x2="1360.8" y2="157.2" stroke="#000" stroke-width="1.6" /><line x1="1392.3" y1="162.4" x2="1383.7" y2="157.3" stroke="#000" stroke-width="1.6" /><line x1="1415.2" y1="162.5" x2="1401.5" y2="154.3" stroke="#000" stroke-width="1.6" /><line x1="1438.2" y1="162.6" x2="1429.6" y2="157.5" stroke="#000" stroke-width="1.6" /><line x1="1461.2" y1="162.7" x2="1452.6" y2="157.6" stroke="#000" stroke-width="1.6" /><line x1="1484.1" y1="162.7" x2="1475.5" y2="157.6" stroke="#000" stroke-width="1.6" /><line x1="1507.0" y1="162.8" x2="1498.5" y2="157.7" stroke="#000" stroke-width="1.6" /><line x1="1530.0" y1="162.9" x2="1516.2" y2="154.7" stroke="#000" stroke-width="1.6" /><line x1="1553.0" y1="163.0" x2="1544.4" y2="157.9" stroke="#000" stroke-width="1.6" /><line x1="1575.9" y1="163.1" x2="1567.3" y2="158.0" stroke="#000" stroke-width="1.6" /><line x1="1598.8" y1="163.1" x2="1590.2" y2="158.0" stroke="#000" stroke-width="1.6" /><line x1="1621.8" y1="163.2" x2="1613.2" y2="158.1" stroke="#000" stroke-width="1.6" /><line x1="1644.8" y1="163.3" x2="1631.0" y2="155.1" stroke="#000" stroke-width="1.6" /><line x1="1667.7" y1="163.4" x2="1659.1" y2="158.3" stroke="#000" stroke-width="1.6" /><line x1="1690.7" y1="163.5" x2="1682.1" y2="158.4" stroke="#000" stroke-width="1.6" /><line x1="1713.6" y1="163.5" x2="1705.0" y2="158.4" stroke="#000" stroke-width="1.6" /><line x1="1736.5" y1="163.6" x2="1728.0" y2="158.5" stroke="#000" stroke-width="1.6" /><line x1="1759.5" y1="163.7" x2="1745.7" y2="155.5" stroke="#000" stroke-width="1.6" /><line x1="1782.5" y1="163.8" x2="1773.9" y2="158.7" stroke="#000" stroke-width="1.6" /><line x1="1805.4" y1="163.9" x2="1796.8" y2="158.8" stroke="#000" stroke-width="1.6" /><line x1="1828.3" y1="163.9" x2="1819.8" y2="158.8" stroke="#000" stroke-width="1.6" /><line x1="1851.3" y1="164.0" x2="1842.7" y2="158.9" stroke="#000" stroke-width="1.6" /><line x1="1874.2" y1="164.1" x2="1860.5" y2="155.9" stroke="#000" stroke-width="1.6" /><line x1="1897.2" y1="164.2" x2="1888.6" y2="159.1" stroke="#000" stroke-width="1.6" /><line x1="1920.2" y1="164.3" x2="1911.6" y2="159.2" stroke="#000" stroke-width="1.6" /><line x1="1943.1" y1="164.3" x2="1934.5" y2="159.2" stroke="#000" stroke-width="1.6" /><line x1="1966.0" y1="164.4" x2="1957.5" y2="159.3" stroke="#000" stroke-width="1.6" /><line x1="1989.0" y1="164.5" x2="1975.2" y2="156.3" stroke="#000" stroke-width="1.6" /><line x1="1298.2" y1="162.1" x2="879.6" y2="943.7" stroke="#000" stroke-width="2.6" /><line x1="879.6" y1="943.7" x2="872.1" y2="939.6" stroke="#000" stroke-width="1.6" /><line x1="885.1" y1="933.4" x2="872.1" y2="926.3" stroke="#000" stroke-width="1.6" /><line x1="890.6" y1="923.1" x2="883.1" y2="919.0" stroke="#000" stroke-width="1.6" /><line x1="896.1" y1="912.8" x2="888.6" y2="908.7" stroke="#000" stroke-width="1.6" /><line x1="901.6" y1="902.5" x2="894.1" y2="898.4" stroke="#000" stroke-width="1.6" /><line x1="907.1" y1="892.3" x2="899.6" y2="888.1" stroke="#000" stroke-width="1.6" /><line x1="912.6" y1="882.0" x2="899.6" y2="874.8" stroke="#000" stroke-width="1.6" /><line x1="918.1" y1="871.7" x2="910.6" y2="867.6" stroke="#000" stroke-width="1.6" /><line x1="923.6" y1="861.4" x2="916.1" y2="857.3" stroke="#000" stroke-width="1.6" /><line x1="929.2" y1="851.1" x2="921.7" y2="847.0" stroke="#000" stroke-width="1.6" /><line x1="934.7" y1="840.8" x2="927.2" y2="836.7" stroke="#000" stroke-width="1.6" /><line x1="940.2" y1="830.6" x2="927.2" y2="823.4" stroke="#000" stroke-width="1.6" /><line x1="945.7" y1="820.3" x2="938.2" y2="816.2" stroke="#000" stroke-width="1.6" /><line x1="951.2" y1="810.0" x2="943.7" y2="805.9" stroke="#000" stroke-width="1.6" /><line x1="956.7" y1="799.7" x2="949.2" y2="795.6" stroke="#000" stroke-width="1.6" /><line x1="962.2" y1="789.4" x2="954.7" y2="785.3" stroke="#000" stroke-width="1.6" /><line x1="967.7" y1="779.1" x2="954.7" y2="772.0" stroke="#000" stroke-width="1.6" /><line x1="973.2" y1="768.9" x2="965.7" y2="764.7" stroke="#000" stroke-width="1.6" /><line x1="978.7" y1="758.6" x2="971.2" y2="754.4" stroke="#000" stroke-width="1.6" /><line x1="984.2" y1="748.3" x2="976.7" y2="744.2" stroke="#000" stroke-width="1.6" /><line x1="989.7" y1="738.0" x2="982.2" y2="733.9" stroke="#000" stroke-width="1.6" /><line x1="995.3" y1="727.7" x2="982.3" y2="720.6" stroke="#000" stroke-width="1.6" /><line x1="1000.8" y1="717.4" x2="993.3" y2="713.3" stroke="#000" stroke-width="1.6" /><line x1="1006.3" y1="707.2" x2="998.8" y2="703.0" stroke="#000" stroke-width="1.6" /><line x1="1011.8" y1="696.9" x2="1004.3" y2="692.7" stroke="#000" stroke-width="1.6" /><line x1="1017.3" y1="686.6" x2="1009.8" y2="682.5" stroke="#000" stroke-width="1.6" /><line x1="1022.8" y1="676.3" x2="1009.8" y2="669.2" stroke="#000" stroke-width="1.6" /><line x1="1028.3" y1="666.0" x2="1020.8" y2="661.9" stroke="#000" stroke-width="1.6" /><line x1="1033.8" y1="655.7" x2="1026.3" y2="651.6" stroke="#000" stroke-width="1.6" /><line x1="1039.3" y1="645.4" x2="1031.8" y2="641.3" stroke="#000" stroke-width="1.6" /><line x1="1044.8" y1="635.2" x2="1037.3" y2="631.0" stroke="#000" stroke-width="1.6" /><line x1="1050.3" y1="624.9" x2="1037.3" y2="617.7" stroke="#000" stroke-width="1.6" /><line x1="1055.8" y1="614.6" x2="1048.3" y2="610.5" stroke="#000" stroke-width="1.6" /><line x1="1061.4" y1="604.3" x2="1053.9" y2="600.2" stroke="#000" stroke-width="1.6" /><line x1="1066.9" y1="594.0" x2="1059.4" y2="589.9" stroke="#000" stroke-width="1.6" /><line x1="1072.4" y1="583.7" x2="1064.9" y2="579.6" stroke="#000" stroke-width="1.6" /><line x1="1077.9" y1="573.5" x2="1064.9" y2="566.3" stroke="#000" stroke-width="1.6" /><line x1="1083.4" y1="563.2" x2="1075.9" y2="559.1" stroke="#000" stroke-width="1.6" /><line x1="1088.9" y1="552.9" x2="1081.4" y2="548.8" stroke="#000" stroke-width="1.6" /><line x1="1094.4" y1="542.6" x2="1086.9" y2="538.5" stroke="#000" stroke-width="1.6" /><line x1="1099.9" y1="532.3" x2="1092.4" y2="528.2" stroke="#000" stroke-width="1.6" /><line x1="1105.4" y1="522.0" x2="1092.4" y2="514.9" stroke="#000" stroke-width="1.6" /><line x1="1110.9" y1="511.8" x2="1103.4" y2="507.6" stroke="#000" stroke-width="1.6" /><line x1="1116.4" y1="501.5" x2="1108.9" y2="497.3" stroke="#000" stroke-width="1.6" /><line x1="1121.9" y1="491.2" x2="1114.4" y2="487.1" stroke="#000" stroke-width="1.6" /><line x1="1127.4" y1="480.9" x2="1119.9" y2="476.8" stroke="#000" stroke-width="1.6" /><line x1="1133.0" y1="470.6" x2="1120.0" y2="463.5" stroke="#000" stroke-width="1.6" /><line x1="1138.5" y1="460.3" x2="1131.0" y2="456.2" stroke="#000" stroke-width="1.6" /><line x1="1144.0" y1="450.1" x2="1136.5" y2="445.9" stroke="#000" stroke-width="1.6" /><line x1="1149.5" y1="439.8" x2="1142.0" y2="435.6" stroke="#000" stroke-width="1.6" /><line x1="1155.0" y1="429.5" x2="1147.5" y2="425.4" stroke="#000" stroke-width="1.6" /><line x1="1160.5" y1="419.2" x2="1147.5" y2="412.1" stroke="#000" stroke-width="1.6" /><line x1="1166.0" y1="408.9" x2="1158.5" y2="404.8" stroke="#000" stroke-width="1.6" /><line x1="1171.5" y1="398.6" x2="1164.0" y2="394.5" stroke="#000" stroke-width="1.6" /><line x1="1177.0" y1="388.3" x2="1169.5" y2="384.2" stroke="#000" stroke-width="1.6" /><line x1="1182.5" y1="378.1" x2="1175.0" y2="373.9" stroke="#000" stroke-width="1.6" /><line x1="1188.0" y1="367.8" x2="1175.0" y2="360.6" stroke="#000" stroke-width="1.6" /><line x1="1193.5" y1="357.5" x2="1186.0" y2="353.4" stroke="#000" stroke-width="1.6" /><line x1="1199.1" y1="347.2" x2="1191.6" y2="343.1" stroke="#000" stroke-width="1.6" /><line x1="1204.6" y1="336.9" x2="1197.1" y2="332.8" stroke="#000" stroke-width="1.6" /><line x1="1210.1" y1="326.6" x2="1202.6" y2="322.5" stroke="#000" stroke-width="1.6" /><line x1="1215.6" y1="316.4" x2="1202.6" y2="309.2" stroke="#000" stroke-width="1.6" /><line x1="1221.1" y1="306.1" x2="1213.6" y2="302.0" stroke="#000" stroke-width="1.6" /><line x1="1226.6" y1="295.8" x2="1219.1" y2="291.7" stroke="#000" stroke-width="1.6" /><line x1="1232.1" y1="285.5" x2="1224.6" y2="281.4" stroke="#000" stroke-width="1.6" /><line x1="1237.6" y1="275.2" x2="1230.1" y2="271.1" stroke="#000" stroke-width="1.6" /><line x1="1243.1" y1="264.9" x2="1230.1" y2="257.8" stroke="#000" stroke-width="1.6" /><line x1="1248.6" y1="254.7" x2="1241.1" y2="250.5" stroke="#000" stroke-width="1.6" /><line x1="1254.1" y1="244.4" x2="1246.6" y2="240.2" stroke="#000" stroke-width="1.6" /><line x1="1259.6" y1="234.1" x2="1252.1" y2="230.0" stroke="#000" stroke-width="1.6" /><line x1="1265.2" y1="223.8" x2="1257.7" y2="219.7" stroke="#000" stroke-width="1.6" /><line x1="1270.7" y1="213.5" x2="1257.7" y2="206.4" stroke="#000" stroke-width="1.6" /><line x1="1276.2" y1="203.2" x2="1268.7" y2="199.1" stroke="#000" stroke-width="1.6" /><line x1="1281.7" y1="193.0" x2="1274.2" y2="188.8" stroke="#000" stroke-width="1.6" /><line x1="1287.2" y1="182.7" x2="1279.7" y2="178.5" stroke="#000" stroke-width="1.6" /><line x1="1292.7" y1="172.4" x2="1285.2" y2="168.3" stroke="#000" stroke-width="1.6" /><line x1="1298.2" y1="162.1" x2="1285.2" y2="154.9" stroke="#000" stroke-width="1.6" /><line x1="769.2" y1="873.1" x2="679.9" y2="1037.5" stroke="#000" stroke-width="2.6" /><line x1="679.9" y1="1037.5" x2="672.4" y2="1033.4" stroke="#000" stroke-width="1.6" /><line x1="685.5" y1="1027.2" x2="672.5" y2="1020.1" stroke="#000" stroke-width="1.6" /><line x1="691.1" y1="1017.0" x2="683.6" y2="1012.8" stroke="#000" stroke-width="1.6" /><line x1="696.6" y1="1006.7" x2="689.1" y2="1002.5" stroke="#000" stroke-width="1.6" /><line x1="702.2" y1="996.4" x2="694.7" y2="992.3" stroke="#000" stroke-width="1.6" /><line x1="707.8" y1="986.1" x2="700.3" y2="982.0" stroke="#000" stroke-width="1.6" /><line x1="713.4" y1="975.9" x2="700.4" y2="968.7" stroke="#000" stroke-width="1.6" /><line x1="719.0" y1="965.6" x2="711.5" y2="961.5" stroke="#000" stroke-width="1.6" /><line x1="724.5" y1="955.3" x2="717.0" y2="951.2" stroke="#000" stroke-width="1.6" /><line x1="730.1" y1="945.0" x2="722.6" y2="940.9" stroke="#000" stroke-width="1.6" /><line x1="735.7" y1="934.8" x2="728.2" y2="930.6" stroke="#000" stroke-width="1.6" /><line x1="741.3" y1="924.5" x2="728.3" y2="917.3" stroke="#000" stroke-width="1.6" /><line x1="746.9" y1="914.2" x2="739.4" y2="910.1" stroke="#000" stroke-width="1.6" /><line x1="752.5" y1="903.9" x2="745.0" y2="899.8" stroke="#000" stroke-width="1.6" /><line x1="758.0" y1="893.6" x2="750.5" y2="889.5" stroke="#000" stroke-width="1.6" /><line x1="763.6" y1="883.4" x2="756.1" y2="879.2" stroke="#000" stroke-width="1.6" /><line x1="769.2" y1="873.1" x2="756.2" y2="866.0" stroke="#000" stroke-width="1.6" /><line x1="567.1" y1="967.5" x2="476.6" y2="1134.2" stroke="#000" stroke-width="2.6" /><line x1="476.6" y1="1134.2" x2="469.1" y2="1130.1" stroke="#000" stroke-width="1.6" /><line x1="482.3" y1="1123.8" x2="469.3" y2="1116.6" stroke="#000" stroke-width="1.6" /><line x1="487.9" y1="1113.4" x2="480.4" y2="1109.2" stroke="#000" stroke-width="1.6" /><line x1="493.6" y1="1102.9" x2="486.1" y2="1098.8" stroke="#000" stroke-width="1.6" /><line x1="499.2" y1="1092.5" x2="491.7" y2="1088.4" stroke="#000" stroke-width="1.6" /><line x1="504.9" y1="1082.1" x2="497.4" y2="1078.0" stroke="#000" stroke-width="1.6" /><line x1="510.5" y1="1071.7" x2="497.5" y2="1064.5" stroke="#000" stroke-width="1.6" /><line x1="516.2" y1="1061.3" x2="508.7" y2="1057.1" stroke="#000" stroke-width="1.6" /><line x1="521.9" y1="1050.8" x2="514.4" y2="1046.7" stroke="#000" stroke-width="1.6" /><line x1="527.5" y1="1040.4" x2="520.0" y2="1036.3" stroke="#000" stroke-width="1.6" /><line x1="533.2" y1="1030.0" x2="525.7" y2="1025.9" stroke="#000" stroke-width="1.6" /><line x1="538.8" y1="1019.6" x2="525.8" y2="1012.4" stroke="#000" stroke-width="1.6" /><line x1="544.5" y1="1009.2" x2="537.0" y2="1005.0" stroke="#000" stroke-width="1.6" /><line x1="550.1" y1="998.8" x2="542.6" y2="994.6" stroke="#000" stroke-width="1.6" /><line x1="555.8" y1="988.3" x2="548.3" y2="984.2" stroke="#000" stroke-width="1.6" /><line x1="561.4" y1="977.9" x2="553.9" y2="973.8" stroke="#000" stroke-width="1.6" /><line x1="567.1" y1="967.5" x2="554.1" y2="960.4" stroke="#000" stroke-width="1.6" /><line x1="360.3" y1="1071.6" x2="256.2" y2="1268.1" stroke="#000" stroke-width="2.6" /><line x1="256.2" y1="1268.1" x2="243.2" y2="1260.9" stroke="#000" stroke-width="1.6" /><line x1="261.4" y1="1258.3" x2="253.9" y2="1254.1" stroke="#000" stroke-width="1.6" /><line x1="266.6" y1="1248.4" x2="259.1" y2="1244.3" stroke="#000" stroke-width="1.6" /><line x1="271.8" y1="1238.6" x2="264.3" y2="1234.5" stroke="#000" stroke-width="1.6" /><line x1="277.0" y1="1228.8" x2="269.5" y2="1224.7" stroke="#000" stroke-width="1.6" /><line x1="282.2" y1="1219.0" x2="269.2" y2="1211.8" stroke="#000" stroke-width="1.6" /><line x1="287.4" y1="1209.1" x2="279.9" y2="1205.0" stroke="#000" stroke-width="1.6" /><line x1="292.6" y1="1199.3" x2="285.1" y2="1195.2" stroke="#000" stroke-width="1.6" /><line x1="297.8" y1="1189.5" x2="290.3" y2="1185.4" stroke="#000" stroke-width="1.6" /><line x1="303.0" y1="1179.7" x2="295.5" y2="1175.5" stroke="#000" stroke-width="1.6" /><line x1="308.2" y1="1169.8" x2="295.2" y2="1162.7" stroke="#000" stroke-width="1.6" /><line x1="313.5" y1="1160.0" x2="306.0" y2="1155.9" stroke="#000" stroke-width="1.6" /><line x1="318.7" y1="1150.2" x2="311.2" y2="1146.1" stroke="#000" stroke-width="1.6" /><line x1="323.9" y1="1140.4" x2="316.4" y2="1136.2" stroke="#000" stroke-width="1.6" /><line x1="329.1" y1="1130.5" x2="321.6" y2="1126.4" stroke="#000" stroke-width="1.6" /><line x1="334.3" y1="1120.7" x2="321.3" y2="1113.6" stroke="#000" stroke-width="1.6" /><line x1="339.5" y1="1110.9" x2="332.0" y2="1106.8" stroke="#000" stroke-width="1.6" /><line x1="344.7" y1="1101.1" x2="337.2" y2="1096.9" stroke="#000" stroke-width="1.6" /><line x1="349.9" y1="1091.2" x2="342.4" y2="1087.1" stroke="#000" stroke-width="1.6" /><line x1="355.1" y1="1081.4" x2="347.6" y2="1077.3" stroke="#000" stroke-width="1.6" /><line x1="360.3" y1="1071.6" x2="347.3" y2="1064.4" stroke="#000" stroke-width="1.6" /></g>
<g><rect x="-19.5" y="-12.7" width="39.0" height="25.5" fill="#fff" transform="translate(856.7,912.5) rotate(-61.8)"/><rect x="-19.5" y="-12.7" width="39.0" height="25.5" fill="#fff" transform="translate(884.2,861.1) rotate(-61.8)"/><rect x="-19.5" y="-12.7" width="39.0" height="25.5" fill="#fff" transform="translate(911.8,809.7) rotate(-61.8)"/><rect x="-19.5" y="-12.7" width="39.0" height="25.5" fill="#fff" transform="translate(939.3,758.2) rotate(-61.8)"/><rect x="-19.5" y="-12.7" width="39.0" height="25.5" fill="#fff" transform="translate(966.9,706.8) rotate(-61.8)"/><rect x="-19.5" y="-12.7" width="39.0" height="25.5" fill="#fff" transform="translate(994.4,655.4) rotate(-61.8)"/><rect x="-19.5" y="-12.7" width="39.0" height="25.5" fill="#fff" transform="translate(1021.9,604.0) rotate(-61.8)"/><rect x="-19.5" y="-12.7" width="39.0" height="25.5" fill="#fff" transform="translate(1049.5,552.6) rotate(-61.8)"/><rect x="-19.5" y="-12.7" width="39.0" height="25.5" fill="#fff" transform="translate(1077.0,501.1) rotate(-61.8)"/><rect x="-19.5" y="-12.7" width="39.0" height="25.5" fill="#fff" transform="translate(1104.6,449.7) rotate(-61.8)"/><rect x="-19.5" y="-12.7" width="39.0" height="25.5" fill="#fff" transform="translate(1132.1,398.3) rotate(-61.8)"/><rect x="-19.5" y="-12.7" width="39.0" height="25.5" fill="#fff" transform="translate(1159.6,346.9) rotate(-61.8)"/><rect x="-25.8" y="-12.7" width="51.5" height="25.5" fill="#fff" transform="translate(1187.2,295.5) rotate(-61.8)"/><rect x="-25.8" y="-12.7" width="51.5" height="25.5" fill="#fff" transform="translate(1214.7,244.0) rotate(-61.8)"/><rect x="-25.8" y="-12.7" width="51.5" height="25.5" fill="#fff" transform="translate(1242.3,192.6) rotate(-61.8)"/><rect x="-25.8" y="-12.7" width="51.5" height="25.5" fill="#fff" transform="translate(1269.8,141.2) rotate(-61.8)"/><rect x="-19.5" y="-12.7" width="39.0" height="25.5" fill="#fff" transform="translate(657.1,1006.3) rotate(-61.8)"/><rect x="-19.5" y="-12.7" width="39.0" height="25.5" fill="#fff" transform="translate(685.0,955.0) rotate(-61.8)"/><rect x="-19.5" y="-12.7" width="39.0" height="25.5" fill="#fff" transform="translate(712.9,903.6) rotate(-61.8)"/><rect x="-19.5" y="-12.7" width="39.0" height="25.5" fill="#fff" transform="translate(740.8,852.2) rotate(-61.8)"/><rect x="-19.5" y="-12.7" width="39.0" height="25.5" fill="#fff" transform="translate(453.9,1102.9) rotate(-61.8)"/><rect x="-19.5" y="-12.7" width="39.0" height="25.5" fill="#fff" transform="translate(482.1,1050.8) rotate(-61.8)"/><rect x="-19.5" y="-12.7" width="39.0" height="25.5" fill="#fff" transform="translate(510.4,998.7) rotate(-61.8)"/><rect x="-19.5" y="-12.7" width="39.0" height="25.5" fill="#fff" transform="translate(538.7,946.6) rotate(-61.8)"/><rect x="-26.1" y="-12.7" width="52.2" height="25.5" fill="#fff" transform="translate(227.8,1247.2) rotate(-61.8)"/><rect x="-19.8" y="-12.7" width="39.7" height="25.5" fill="#fff" transform="translate(253.8,1198.1) rotate(-61.8)"/><rect x="-13.3" y="-12.7" width="26.5" height="25.5" fill="#fff" transform="translate(279.9,1148.9) rotate(-61.8)"/><rect x="-13.3" y="-12.7" width="26.5" height="25.5" fill="#fff" transform="translate(305.9,1099.8) rotate(-61.8)"/><rect x="-19.5" y="-12.7" width="39.0" height="25.5" fill="#fff" transform="translate(331.9,1050.7) rotate(-61.8)"/><rect x="-15.4" y="-12.9" width="30.8" height="25.8" fill="#fff" transform="translate(670.0,1095.0) rotate(-25)"/><rect x="-21.8" y="-12.9" width="43.6" height="25.8" fill="#fff" transform="translate(798.0,1018.0) rotate(-40)"/><rect x="-21.8" y="-12.9" width="43.6" height="25.8" fill="#fff" transform="translate(925.0,915.0) rotate(-50)"/><rect x="-21.8" y="-12.9" width="43.6" height="25.8" fill="#fff" transform="translate(1058.0,783.0) rotate(-55)"/><rect x="-21.8" y="-12.9" width="43.6" height="25.8" fill="#fff" transform="translate(1183.0,607.0) rotate(-60)"/><rect x="-21.8" y="-12.9" width="43.6" height="25.8" fill="#fff" transform="translate(1317.0,368.0) rotate(-63)"/><rect x="-14.4" y="-12.9" width="28.8" height="25.8" fill="#fff" transform="translate(540.0,1152.0) rotate(-60)"/><rect x="-22.1" y="-12.9" width="44.2" height="25.8" fill="#fff" transform="translate(405.0,1193.0) rotate(-25)"/><rect x="-36.0" y="-15.9" width="72.0" height="31.8" fill="#fff" transform="translate(1372.0,337.0) rotate(-63)"/><rect x="-36.0" y="-15.9" width="72.0" height="31.8" fill="#fff" transform="translate(1400.0,398.0) rotate(-63)"/><rect x="-36.0" y="-15.9" width="72.0" height="31.8" fill="#fff" transform="translate(1430.0,462.0) rotate(-60)"/><rect x="-36.0" y="-15.9" width="72.0" height="31.8" fill="#fff" transform="translate(1455.0,540.0) rotate(-58)"/><rect x="-36.0" y="-15.9" width="72.0" height="31.8" fill="#fff" transform="translate(1488.0,605.0) rotate(-55)"/><rect x="-36.0" y="-15.9" width="72.0" height="31.8" fill="#fff" transform="translate(1528.0,710.0) rotate(-52)"/><rect x="-36.0" y="-15.9" width="72.0" height="31.8" fill="#fff" transform="translate(1562.0,822.0) rotate(-47)"/><rect x="-36.0" y="-15.9" width="72.0" height="31.8" fill="#fff" transform="translate(1608.0,945.0) rotate(-38)"/><rect x="-36.0" y="-15.9" width="72.0" height="31.8" fill="#fff" transform="translate(1665.0,1095.0) rotate(-22)"/><rect x="-4" y="-4" width="131.3" height="27.0" fill="#fff" transform="translate(1194.0,534.0) rotate(-60)"/><rect x="-8" y="-8" width="107.0" height="35.0" fill="#fff" transform="translate(1503.0,572.0) rotate(-55)"/></g>
<g><path d="M288.8,1237.6 L297.4,1236.0 L305.9,1234.4 L314.4,1232.7 L323.0,1231.0 L331.5,1229.2 L340.0,1227.4 L348.5,1225.5 L357.1,1223.6 L365.6,1221.6 L374.1,1219.6 L382.7,1217.5 L391.2,1215.4 L399.7,1213.2 L408.2,1210.9 L416.8,1208.6 L425.3,1206.2 L433.8,1203.8 L442.4,1201.3 L450.9,1198.7 L459.4,1196.1 L468.0,1193.4 L476.5,1190.6 L485.0,1187.7 L493.5,1184.8 L502.1,1181.8 L510.6,1178.7 L519.1,1175.6 L527.7,1172.3 L536.2,1169.0 L544.7,1165.6 L553.5,1162.5 L562.2,1159.3 L571.0,1156.1 L579.8,1152.8 L588.5,1149.5 L597.3,1146.0 L606.0,1142.5 L614.8,1139.0 L623.6,1135.3 L632.3,1131.6 L641.1,1127.7 L649.8,1123.8 L658.6,1119.8 L667.4,1115.8 L676.1,1111.6 L684.8,1107.4 L693.5,1103.0 L702.2,1098.6 L710.9,1094.1 L719.6,1089.5 L728.2,1084.8 L736.9,1080.0 L745.6,1075.1 L754.3,1070.0 L763.0,1064.9 L771.7,1059.7 L780.4,1054.4 L789.1,1048.9 L797.8,1043.4 L806.5,1037.7 L815.1,1032.0 L823.7,1026.1 L832.3,1020.0 L840.8,1013.9 L849.4,1007.6 L858.0,1001.2 L866.6,994.7 L875.2,988.1 L883.8,981.3 L892.4,974.4 L901.0,967.3 L909.6,960.1 L918.2,952.8 L926.8,945.3 L935.4,937.6 L944.1,929.8 L952.8,921.9 L961.5,913.8 L970.2,905.5 L979.0,897.1 L987.7,888.5 L996.4,879.8 L1005.1,870.9 L1013.8,861.8 L1022.6,852.5 L1031.3,843.0 L1040.0,833.4 L1048.7,823.6 L1057.5,813.6 L1066.2,803.4 L1074.9,793.0 L1083.5,782.3 L1092.2,771.5 L1100.9,760.5 L1109.6,749.3 L1118.3,737.9 L1126.9,726.2 L1135.6,714.3 L1144.3,702.2 L1153.0,689.9 L1161.7,677.3 L1170.4,664.5 L1179.0,651.5 L1187.7,638.2 L1196.4,624.7 L1205.1,610.9 L1213.7,596.8 L1222.4,582.5 L1231.0,567.9 L1239.7,553.1 L1248.3,537.9 L1257.0,522.5 L1265.6,506.8 L1274.3,490.8 L1282.9,474.6 L1291.6,458.0 L1300.2,441.1 L1308.9,423.8 L1317.6,406.3 L1326.2,388.5 L1334.9,370.3 L1343.6,351.8 L1352.3,332.9 L1361.0,313.7 L1369.7,294.1 L1378.4,274.2 L1387.1,253.9 L1395.8,233.3 L1404.5,212.2 L1413.2,190.8 L1975.1,191.8" fill="none" stroke="#000" stroke-width="4.5" stroke-linejoin="round"/><path d="M288.7,1285.7 L299.1,1285.5 L309.5,1285.3 L319.9,1285.1 L330.3,1284.9 L340.8,1284.7 L351.2,1284.5 L361.6,1284.3 L372.0,1284.1 L382.4,1283.8 L392.8,1283.6 L403.2,1283.3 L413.6,1283.1 L424.0,1282.8 L434.4,1282.5 L444.8,1282.2 L455.3,1281.9 L465.7,1281.6 L476.1,1281.3 L486.5,1281.0 L496.9,1280.6 L507.3,1280.3 L517.7,1279.9 L528.1,1279.6 L538.5,1279.2 L549.0,1278.8 L559.7,1278.4 L570.4,1278.1 L581.1,1277.7 L591.8,1277.3 L602.5,1276.9 L613.2,1276.5 L623.8,1276.0 L634.5,1275.6 L645.2,1275.2 L655.9,1274.7 L666.6,1274.2 L677.3,1273.8 L687.9,1273.3 L698.5,1272.7 L709.1,1272.2 L719.6,1271.7 L730.2,1271.1 L740.8,1270.6 L751.4,1270.0 L762.0,1269.4 L772.6,1268.8 L783.2,1268.2 L793.8,1267.5 L804.4,1266.9 L814.9,1266.2 L825.4,1265.5 L835.9,1264.8 L846.4,1264.1 L856.8,1263.3 L867.3,1262.6 L877.8,1261.8 L888.3,1261.0 L898.7,1260.2 L909.2,1259.3 L919.7,1258.5 L930.2,1257.6 L940.7,1256.7 L951.3,1255.8 L961.9,1254.8 L972.6,1253.9 L983.2,1252.9 L993.8,1251.9 L1004.4,1250.9 L1015.1,1249.8 L1025.7,1248.7 L1036.3,1247.6 L1046.9,1246.5 L1057.5,1245.3 L1068.2,1244.1 L1078.7,1242.9 L1089.3,1241.7 L1099.9,1240.4 L1110.4,1239.1 L1121.0,1237.8 L1131.6,1236.4 L1142.1,1235.1 L1152.7,1233.6 L1163.3,1232.2 L1173.8,1230.7 L1184.4,1229.2 L1195.0,1227.7 L1205.5,1226.1 L1216.0,1224.5 L1226.5,1222.8 L1237.0,1221.2 L1247.5,1219.4 L1258.1,1217.7 L1268.6,1215.9 L1279.1,1214.1 L1289.6,1212.2 L1300.1,1210.3 L1310.7,1208.3 L1321.2,1206.4 L1331.7,1204.3 L1342.3,1202.3 L1352.8,1200.1 L1363.4,1198.0 L1374.0,1195.8 L1384.5,1193.5 L1395.1,1191.2 L1405.6,1188.9 L1416.2,1186.5 L1426.8,1184.1 L1437.3,1181.6 L1447.9,1179.0 L1458.4,1176.4 L1468.9,1173.8 L1479.3,1171.1 L1489.8,1168.4 L1500.3,1165.6 L1510.7,1162.7 L1521.2,1159.8 L1531.6,1156.8 L1542.1,1153.8 L1552.5,1150.7 L1563.0,1147.5 L1573.4,1144.3 L1583.9,1141.1 L1594.4,1137.7 L1604.8,1134.3 L1615.3,1130.9 L1625.8,1127.3 L1636.2,1123.7 L1646.7,1120.1 L1657.2,1116.3 L1667.6,1112.5 L1678.1,1108.6 L1688.6,1104.7 L1699.0,1100.7 L1709.5,1096.6 L1720.1,1092.4 L1730.7,1088.1 L1741.3,1083.8 L1751.9,1079.4 L1762.5,1074.9 L1773.1,1070.3 L1783.7,1065.6 L1794.3,1060.9 L1804.9,1056.1 L1815.5,1051.1 L1826.1,1046.1 L1836.7,1041.0 L1847.2,1035.8 L1857.7,1030.5 L1868.2,1025.2 L1878.7,1019.7 L1889.1,1014.1 L1899.6,1008.4 L1910.1,1002.6 L1920.6,996.8 L1931.1,990.8 L1941.5,984.7 L1952.0,978.5 L1962.5,972.2 L1973.0,965.8" fill="none" stroke="#000" stroke-width="4.5" stroke-linejoin="round"/><path d="M288.7,1280.3 L299.1,1280.0 L309.5,1279.6 L320.0,1279.2 L330.4,1278.8 L340.8,1278.3 L351.2,1277.9 L361.6,1277.4 L372.0,1277.0 L382.4,1276.5 L392.8,1276.0 L403.2,1275.5 L413.6,1274.9 L424.1,1274.4 L434.5,1273.8 L444.9,1273.2 L455.3,1272.6 L465.7,1271.9 L476.1,1271.3 L486.5,1270.6 L496.9,1269.9 L507.3,1269.2 L517.7,1268.4 L528.2,1267.7 L538.6,1266.9 L549.1,1266.1 L559.8,1265.3 L570.5,1264.6 L581.1,1263.8 L591.8,1263.0 L602.5,1262.2 L613.2,1261.3 L623.9,1260.5 L634.6,1259.6 L645.3,1258.7 L655.9,1257.7 L666.6,1256.8 L677.3,1255.8 L687.9,1254.8 L698.5,1253.7 L709.1,1252.7 L719.7,1251.6 L730.3,1250.4 L740.9,1249.3 L751.5,1248.1 L762.1,1246.9 L772.7,1245.7 L783.3,1244.4 L793.9,1243.1 L804.5,1241.8 L815.0,1240.4 L825.5,1239.0 L835.9,1237.6 L846.4,1236.1 L856.9,1234.6 L867.4,1233.0 L877.9,1231.5 L888.3,1229.8 L898.8,1228.2 L909.3,1226.5 L919.8,1224.7 L930.2,1223.0 L940.8,1221.1 L951.4,1219.3 L962.0,1217.4 L972.7,1215.4 L983.3,1213.4 L993.9,1211.4 L1004.5,1209.3 L1015.2,1207.1 L1025.8,1204.9 L1036.4,1202.7 L1047.0,1200.4 L1057.7,1198.1 L1068.3,1195.7 L1078.9,1193.2 L1089.4,1190.7 L1100.0,1188.1 L1110.6,1185.5 L1121.1,1182.8 L1131.7,1180.1 L1142.3,1177.3 L1152.8,1174.4 L1163.4,1171.5 L1174.0,1168.5 L1184.6,1165.5 L1195.1,1162.3 L1205.7,1159.1 L1216.2,1155.9 L1226.7,1152.5 L1237.2,1149.1 L1247.7,1145.7 L1258.3,1142.1 L1268.8,1138.5 L1279.3,1134.8 L1289.8,1131.0 L1300.4,1127.1 L1310.9,1123.2 L1321.4,1119.1 L1332.0,1115.0 L1342.5,1110.8 L1353.1,1106.5 L1363.7,1102.2 L1374.2,1097.7 L1384.8,1093.1 L1395.4,1088.5 L1405.9,1083.7 L1416.5,1078.9 L1427.1,1073.9 L1437.6,1068.9 L1448.2,1063.7 L1458.7,1058.5 L1469.2,1053.1 L1479.7,1047.7 L1490.1,1042.1 L1500.6,1036.4 L1511.1,1030.6 L1521.5,1024.7 L1532.0,1018.6 L1542.5,1012.5 L1552.9,1006.2 L1563.4,999.8 L1573.9,993.2 L1584.3,986.6 L1594.8,979.8 L1605.3,972.9 L1615.8,965.8 L1626.2,958.6 L1636.7,951.3 L1647.2,943.8 L1657.7,936.2 L1668.1,928.4 L1678.6,920.5 L1689.1,912.4 L1699.6,904.2 L1710.1,895.8 L1720.6,887.3 L1731.2,878.6 L1741.8,869.7 L1752.4,860.7 L1763.1,851.5 L1773.7,842.1 L1784.3,832.6 L1794.9,822.8 L1805.5,812.9 L1816.1,802.8 L1826.7,792.5 L1837.4,782.1 L1847.9,771.4 L1858.4,760.5 L1868.9,749.5 L1879.4,738.2 L1889.9,726.7 L1900.4,715.0 L1910.9,703.1 L1921.4,691.0 L1931.9,678.7 L1942.4,666.1 L1952.9,653.3 L1963.4,640.3 L1973.9,627.0" fill="none" stroke="#000" stroke-width="4.5" stroke-linejoin="round"/><path d="M288.7,1275.0 L299.2,1274.4 L309.6,1273.8 L320.0,1273.2 L330.4,1272.6 L340.8,1272.0 L351.2,1271.3 L361.6,1270.6 L372.0,1269.9 L382.4,1269.1 L392.8,1268.4 L403.3,1267.6 L413.7,1266.7 L424.1,1265.9 L434.5,1265.0 L444.9,1264.1 L455.3,1263.2 L465.7,1262.2 L476.1,1261.2 L486.5,1260.2 L496.9,1259.1 L507.4,1258.1 L517.8,1256.9 L528.2,1255.8 L538.6,1254.6 L549.1,1253.4 L559.8,1252.3 L570.5,1251.1 L581.2,1249.9 L591.9,1248.7 L602.6,1247.5 L613.2,1246.2 L623.9,1244.9 L634.6,1243.5 L645.3,1242.1 L656.0,1240.7 L666.7,1239.3 L677.4,1237.8 L688.0,1236.2 L698.6,1234.7 L709.2,1233.1 L719.8,1231.4 L730.4,1229.7 L741.0,1228.0 L751.6,1226.2 L762.2,1224.4 L772.8,1222.5 L783.4,1220.6 L794.0,1218.6 L804.6,1216.6 L815.1,1214.5 L825.5,1212.4 L836.0,1210.2 L846.5,1208.0 L857.0,1205.7 L867.5,1203.4 L877.9,1201.0 L888.4,1198.6 L898.9,1196.1 L909.4,1193.5 L919.9,1190.9 L930.3,1188.2 L940.9,1185.4 L951.5,1182.6 L962.1,1179.7 L972.8,1176.8 L983.4,1173.8 L994.0,1170.7 L1004.7,1167.5 L1015.3,1164.3 L1025.9,1161.0 L1036.5,1157.6 L1047.2,1154.1 L1057.8,1150.6 L1068.4,1147.0 L1079.0,1143.3 L1089.6,1139.5 L1100.1,1135.6 L1110.7,1131.6 L1121.3,1127.6 L1131.9,1123.4 L1142.4,1119.2 L1153.0,1114.9 L1163.6,1110.4 L1174.2,1105.9 L1184.7,1101.3 L1195.3,1096.6 L1205.8,1091.7 L1216.4,1086.8 L1226.9,1081.8 L1237.4,1076.6 L1247.9,1071.4 L1258.5,1066.0 L1269.0,1060.5 L1279.5,1054.9 L1290.1,1049.1 L1300.6,1043.3 L1311.1,1037.3 L1321.7,1031.2 L1332.2,1025.0 L1342.8,1018.6 L1353.3,1012.1 L1363.9,1005.5 L1374.5,998.7 L1385.1,991.8 L1395.6,984.7 L1406.2,977.5 L1416.8,970.2 L1427.4,962.7 L1437.9,955.0 L1448.5,947.2 L1459.1,939.2 L1469.5,931.0 L1480.0,922.7 L1490.5,914.3 L1501.0,905.6 L1511.4,896.8 L1521.9,887.8 L1532.4,878.6 L1542.8,869.2 L1553.3,859.6 L1563.8,849.9 L1574.3,839.9 L1584.7,829.8 L1595.2,819.4 L1605.7,808.9 L1616.2,798.1 L1626.7,787.2 L1637.2,776.0 L1647.7,764.5 L1658.2,752.9 L1668.6,741.0 L1679.1,728.9 L1689.6,716.6 L1700.1,704.0 L1710.6,691.2 L1721.2,678.1 L1731.8,664.8 L1742.4,651.2 L1753.0,637.4 L1763.7,623.3 L1774.3,608.9 L1784.9,594.2 L1795.6,579.3 L1806.2,564.1 L1816.8,548.6 L1827.4,532.8 L1838.1,516.6 L1848.7,500.2 L1859.2,483.5 L1869.7,466.4 L1880.2,449.1 L1890.7,431.4 L1901.2,413.3 L1911.7,394.9 L1922.3,376.2 L1932.8,357.1 L1943.3,337.7 L1953.8,317.9 L1964.3,297.7 L1974.8,277.2" fill="none" stroke="#000" stroke-width="4.5" stroke-linejoin="round"/><path d="M288.8,1269.7 L299.2,1268.9 L309.6,1268.1 L320.0,1267.3 L330.4,1266.4 L340.8,1265.6 L351.2,1264.7 L361.6,1263.7 L372.0,1262.8 L382.5,1261.8 L392.9,1260.7 L403.3,1259.7 L413.7,1258.6 L424.1,1257.4 L434.5,1256.3 L444.9,1255.1 L455.3,1253.8 L465.7,1252.5 L476.2,1251.2 L486.6,1249.8 L497.0,1248.4 L507.4,1246.9 L517.8,1245.4 L528.2,1243.8 L538.6,1242.2 L549.1,1240.6 L559.8,1239.1 L570.5,1237.6 L581.2,1236.0 L591.9,1234.4 L602.6,1232.7 L613.3,1231.0 L624.0,1229.2 L634.7,1227.4 L645.3,1225.6 L656.0,1223.7 L666.7,1221.7 L677.4,1219.7 L688.0,1217.7 L698.6,1215.6 L709.2,1213.4 L719.8,1211.2 L730.4,1208.9 L741.0,1206.6 L751.6,1204.2 L762.2,1201.8 L772.8,1199.3 L783.4,1196.7 L794.0,1194.1 L804.6,1191.4 L815.1,1188.6 L825.6,1185.8 L836.1,1182.8 L846.6,1179.9 L857.1,1176.8 L867.5,1173.7 L878.0,1170.5 L888.5,1167.2 L899.0,1163.9 L909.5,1160.4 L920.0,1156.9 L930.4,1153.3 L941.0,1149.6 L951.6,1145.9 L962.2,1142.0 L972.9,1138.0 L983.5,1134.0 L994.1,1129.8 L1004.8,1125.6 L1015.4,1121.3 L1026.0,1116.8 L1036.7,1112.3 L1047.3,1107.6 L1057.9,1102.9 L1068.5,1098.0 L1079.1,1093.1 L1089.7,1088.0 L1100.3,1082.8 L1110.9,1077.5 L1121.4,1072.0 L1132.0,1066.5 L1142.6,1060.8 L1153.2,1055.0 L1163.7,1049.0 L1174.3,1042.9 L1184.9,1036.7 L1195.5,1030.4 L1206.0,1023.9 L1216.6,1017.3 L1227.1,1010.5 L1237.6,1003.6 L1248.2,996.5 L1258.7,989.3 L1269.2,981.9 L1279.8,974.4 L1290.3,966.7 L1300.8,958.8 L1311.4,950.7 L1321.9,942.5 L1332.5,934.1 L1343.0,925.6 L1353.6,916.8 L1364.2,907.9 L1374.8,898.8 L1385.3,889.5 L1395.9,879.9 L1406.5,870.2 L1417.1,860.3 L1427.7,850.2 L1438.3,839.9 L1448.8,829.3 L1459.4,818.5 L1469.9,807.5 L1480.4,796.3 L1490.8,784.9 L1501.3,773.2 L1511.8,761.3 L1522.3,749.1 L1532.8,736.7 L1543.2,724.0 L1553.7,711.1 L1564.2,697.9 L1574.7,684.4 L1585.2,670.7 L1595.7,656.6 L1606.2,642.3 L1616.7,627.8 L1627.2,612.9 L1637.7,597.7 L1648.2,582.2 L1658.7,566.4 L1669.2,550.3 L1679.7,533.9 L1690.2,517.1 L1700.7,500.0 L1711.2,482.6 L1721.8,464.8 L1732.4,446.7 L1743.0,428.2 L1753.7,409.4 L1764.3,390.1 L1774.9,370.5 L1785.6,350.5 L1796.2,330.1 L1806.9,309.4 L1817.5,288.2 L1828.2,266.6 L1838.8,244.5 L1849.4,222.1 L1859.9,199.2 L1863.4,191.6" fill="none" stroke="#000" stroke-width="4.5" stroke-linejoin="round"/><path d="M288.8,1264.3 L299.2,1263.4 L309.6,1262.4 L320.0,1261.3 L330.4,1260.3 L340.8,1259.2 L351.2,1258.0 L361.6,1256.9 L372.1,1255.7 L382.5,1254.4 L392.9,1253.1 L403.3,1251.8 L413.7,1250.4 L424.1,1249.0 L434.5,1247.5 L444.9,1246.0 L455.4,1244.4 L465.8,1242.8 L476.2,1241.1 L486.6,1239.4 L497.0,1237.6 L507.4,1235.8 L517.8,1233.9 L528.2,1231.9 L538.7,1229.9 L549.2,1227.9 L559.9,1226.0 L570.6,1224.1 L581.2,1222.1 L591.9,1220.1 L602.6,1218.0 L613.3,1215.8 L624.0,1213.6 L634.7,1211.3 L645.4,1209.0 L656.1,1206.6 L666.8,1204.2 L677.5,1201.7 L688.1,1199.1 L698.7,1196.5 L709.3,1193.7 L719.9,1191.0 L730.5,1188.1 L741.1,1185.2 L751.7,1182.2 L762.3,1179.1 L772.9,1176.0 L783.5,1172.8 L794.1,1169.4 L804.7,1166.1 L815.2,1162.6 L825.7,1159.0 L836.2,1155.4 L846.7,1151.6 L857.1,1147.8 L867.6,1143.9 L878.1,1139.9 L888.6,1135.8 L899.1,1131.6 L909.6,1127.3 L920.0,1122.8 L930.5,1118.3 L941.1,1113.7 L951.7,1108.9 L962.3,1104.1 L973.0,1099.1 L983.6,1094.0 L994.2,1088.8 L1004.9,1083.5 L1015.5,1078.1 L1026.1,1072.5 L1036.8,1066.8 L1047.4,1061.0 L1058.1,1055.0 L1068.7,1048.9 L1079.3,1042.6 L1089.8,1036.2 L1100.4,1029.7 L1111.0,1023.0 L1121.6,1016.2 L1132.2,1009.2 L1142.7,1002.0 L1153.3,994.7 L1163.9,987.2 L1174.5,979.6 L1185.1,971.8 L1195.7,963.8 L1206.2,955.6 L1216.7,947.3 L1227.3,938.8 L1237.8,930.1 L1248.4,921.1 L1258.9,912.0 L1269.4,902.7 L1280.0,893.2 L1290.5,883.5 L1301.1,873.6 L1311.6,863.5 L1322.1,853.1 L1332.7,842.5 L1343.3,831.7 L1353.9,820.7 L1364.5,809.4 L1375.0,797.9 L1385.6,786.1 L1396.2,774.1 L1406.8,761.8 L1417.4,749.3 L1428.0,736.5 L1438.6,723.4 L1449.2,710.1 L1459.7,696.5 L1470.2,682.6 L1480.7,668.4 L1491.2,653.9 L1501.7,639.1 L1512.2,624.0 L1522.7,608.6 L1533.1,592.8 L1543.6,576.8 L1554.1,560.4 L1564.6,543.6 L1575.1,526.6 L1585.6,509.1 L1596.1,491.3 L1606.6,473.2 L1617.1,454.6 L1627.6,435.7 L1638.1,416.4 L1648.7,396.7 L1659.2,376.7 L1669.7,356.1 L1680.2,335.2 L1690.7,313.9 L1701.2,292.1 L1711.7,269.9 L1722.3,247.2 L1733.0,224.1 L1743.6,200.5 L1747.7,191.4" fill="none" stroke="#000" stroke-width="4.5" stroke-linejoin="round"/><path d="M288.8,1259.0 L299.2,1257.8 L309.6,1256.6 L320.0,1255.4 L330.4,1254.1 L340.8,1252.8 L351.3,1251.4 L361.7,1250.0 L372.1,1248.5 L382.5,1247.0 L392.9,1245.5 L403.3,1243.9 L413.7,1242.2 L424.1,1240.5 L434.6,1238.7 L445.0,1236.9 L455.4,1235.0 L465.8,1233.1 L476.2,1231.0 L486.6,1229.0 L497.0,1226.8 L507.5,1224.6 L517.9,1222.3 L528.3,1220.0 L538.7,1217.5 L549.2,1215.1 L559.9,1212.9 L570.6,1210.5 L581.3,1208.1 L592.0,1205.7 L602.7,1203.2 L613.4,1200.6 L624.1,1197.9 L634.7,1195.2 L645.4,1192.4 L656.1,1189.5 L666.8,1186.6 L677.5,1183.6 L688.1,1180.5 L698.7,1177.3 L709.3,1174.0 L719.9,1170.7 L730.5,1167.3 L741.1,1163.7 L751.7,1160.1 L762.3,1156.4 L772.9,1152.7 L783.6,1148.8 L794.2,1144.8 L804.8,1140.7 L815.3,1136.5 L825.8,1132.2 L836.2,1127.9 L846.7,1123.4 L857.2,1118.7 L867.7,1114.0 L878.2,1109.2 L888.7,1104.2 L899.2,1099.2 L909.6,1094.0 L920.1,1088.6 L930.6,1083.2 L941.2,1077.6 L951.8,1071.9 L962.5,1066.1 L973.1,1060.1 L983.7,1054.0 L994.4,1047.7 L1005.0,1041.3 L1015.6,1034.7 L1026.3,1028.0 L1036.9,1021.1 L1047.5,1014.1 L1058.2,1006.9 L1068.8,999.5 L1079.4,991.9 L1090.0,984.2 L1100.6,976.3 L1111.2,968.3 L1121.7,960.0 L1132.3,951.6 L1142.9,943.0 L1153.5,934.1 L1164.1,925.1 L1174.7,915.9 L1185.3,906.4 L1195.8,896.8 L1206.4,886.9 L1216.9,876.8 L1227.5,866.5 L1238.0,856.0 L1248.6,845.2 L1259.1,834.2 L1269.6,823.0 L1280.2,811.5 L1290.7,799.7 L1301.3,787.7 L1311.8,775.4 L1322.4,762.9 L1332.9,750.1 L1343.5,737.0 L1354.1,723.6 L1364.7,710.0 L1375.3,696.0 L1385.9,681.8 L1396.5,667.2 L1407.1,652.3 L1417.7,637.1 L1428.3,621.6 L1438.9,605.8 L1449.5,589.6 L1460.1,573.0 L1470.5,556.1 L1481.0,538.9 L1491.5,521.3 L1502.0,503.3 L1512.5,485.0 L1523.0,466.2 L1533.5,447.1 L1544.0,427.5 L1554.5,407.5 L1565.0,387.2 L1575.6,366.4 L1586.1,345.1 L1596.6,323.4 L1607.1,301.3 L1617.6,278.7 L1628.1,255.6 L1638.6,232.1 L1649.2,208.0 L1656.4,191.2" fill="none" stroke="#000" stroke-width="4.5" stroke-linejoin="round"/><path d="M288.8,1253.6 L299.2,1252.3 L309.6,1250.9 L320.0,1249.4 L330.4,1247.9 L340.9,1246.4 L351.3,1244.8 L361.7,1243.1 L372.1,1241.4 L382.5,1239.7 L392.9,1237.8 L403.3,1236.0 L413.8,1234.0 L424.2,1232.0 L434.6,1229.9 L445.0,1227.8 L455.4,1225.6 L465.8,1223.3 L476.2,1221.0 L486.7,1218.5 L497.1,1216.0 L507.5,1213.4 L517.9,1210.8 L528.3,1208.0 L538.7,1205.2 L549.2,1202.4 L559.9,1199.7 L570.6,1197.0 L581.3,1194.2 L592.0,1191.3 L602.7,1188.4 L613.4,1185.3 L624.1,1182.2 L634.8,1179.0 L645.5,1175.8 L656.2,1172.4 L666.9,1169.0 L677.6,1165.4 L688.2,1161.8 L698.8,1158.1 L709.4,1154.3 L720.0,1150.4 L730.6,1146.4 L741.2,1142.2 L751.8,1138.0 L762.4,1133.7 L773.0,1129.3 L783.6,1124.7 L794.2,1120.1 L804.8,1115.3 L815.3,1110.4 L825.8,1105.4 L836.3,1100.2 L846.8,1095.0 L857.3,1089.6 L867.8,1084.1 L878.3,1078.4 L888.8,1072.6 L899.2,1066.7 L909.7,1060.6 L920.2,1054.3 L930.7,1048.0 L941.3,1041.4 L951.9,1034.7 L962.6,1027.9 L973.2,1020.9 L983.8,1013.7 L994.5,1006.4 L1005.1,998.8 L1015.7,991.1 L1026.4,983.3 L1037.0,975.2 L1047.7,966.9 L1058.3,958.5 L1068.9,949.9 L1079.5,941.0 L1090.1,932.0 L1100.7,922.7 L1111.3,913.3 L1121.9,903.6 L1132.5,893.7 L1143.1,883.5 L1153.7,873.2 L1164.2,862.6 L1174.8,851.8 L1185.4,840.7 L1196.0,829.3 L1206.6,817.8 L1217.1,805.9 L1227.7,793.8 L1238.2,781.4 L1248.8,768.8 L1259.3,755.8 L1269.9,742.6 L1280.4,729.1 L1291.0,715.3 L1301.5,701.1 L1312.1,686.7 L1322.6,671.9 L1333.2,656.9 L1343.8,641.5 L1354.4,625.7 L1365.0,609.6 L1375.6,593.2 L1386.2,576.4 L1396.8,559.2 L1407.4,541.7 L1418.0,523.8 L1428.6,505.5 L1439.2,486.8 L1449.8,467.7 L1460.4,448.1 L1470.9,428.2 L1481.4,407.8 L1491.9,387.0 L1502.4,365.8 L1512.9,344.1 L1523.4,321.9 L1533.9,299.3 L1544.4,276.2 L1555.0,252.5 L1565.5,228.4 L1576.0,203.8 L1581.3,191.1" fill="none" stroke="#000" stroke-width="4.5" stroke-linejoin="round"/><path d="M288.8,1248.3 L299.2,1246.7 L309.6,1245.1 L320.1,1243.5 L330.5,1241.8 L340.9,1240.0 L351.3,1238.2 L361.7,1236.3 L372.1,1234.3 L382.5,1232.3 L392.9,1230.2 L403.4,1228.0 L413.8,1225.8 L424.2,1223.5 L434.6,1221.1 L445.0,1218.7 L455.4,1216.2 L465.8,1213.6 L476.3,1210.9 L486.7,1208.1 L497.1,1205.2 L507.5,1202.2 L517.9,1199.2 L528.3,1196.0 L538.8,1192.8 L549.3,1189.6 L560.0,1186.5 L570.7,1183.4 L581.4,1180.2 L592.1,1176.9 L602.7,1173.5 L613.4,1170.1 L624.1,1166.5 L634.8,1162.9 L645.5,1159.1 L656.2,1155.3 L666.9,1151.3 L677.6,1147.3 L688.2,1143.1 L698.8,1138.9 L709.4,1134.5 L720.0,1130.0 L730.6,1125.4 L741.2,1120.7 L751.9,1115.9 L762.5,1110.9 L773.1,1105.8 L783.7,1100.6 L794.3,1095.3 L804.9,1089.8 L815.4,1084.2 L825.9,1078.5 L836.4,1072.6 L846.9,1066.5 L857.4,1060.3 L867.9,1054.0 L878.4,1047.5 L888.8,1040.9 L899.3,1034.1 L909.8,1027.1 L920.3,1019.9 L930.8,1012.6 L941.4,1005.1 L952.0,997.4 L962.7,989.6 L973.3,981.5 L983.9,973.3 L994.6,964.9 L1005.2,956.2 L1015.9,947.4 L1026.5,938.4 L1037.2,929.1 L1047.8,919.6 L1058.4,909.9 L1069.1,900.0 L1079.7,889.9 L1090.3,879.5 L1100.9,868.8 L1111.4,858.0 L1122.0,846.8 L1132.6,835.4 L1143.2,823.8 L1153.8,811.9 L1164.4,799.7 L1175.0,787.3 L1185.6,774.5 L1196.2,761.5 L1206.8,748.1 L1217.3,734.5 L1227.9,720.6 L1238.4,706.3 L1249.0,691.8 L1259.5,676.9 L1270.1,661.6 L1280.6,646.1 L1291.2,630.1 L1301.8,613.9 L1312.3,597.2 L1322.9,580.2 L1333.5,562.8 L1344.1,545.1 L1354.7,526.9 L1365.3,508.3 L1375.9,489.4 L1386.5,470.0 L1397.1,450.2 L1407.7,429.9 L1418.3,409.2 L1428.9,388.1 L1439.5,366.4 L1450.1,344.4 L1460.7,321.8 L1471.2,298.7 L1481.8,275.2 L1492.3,251.1 L1502.8,226.5 L1513.3,201.4 L1517.6,191.0" fill="none" stroke="#000" stroke-width="4.5" stroke-linejoin="round"/><path d="M288.8,1242.9 L299.2,1241.2 L309.7,1239.4 L320.1,1237.5 L330.5,1235.6 L340.9,1233.6 L351.3,1231.5 L361.7,1229.4 L372.1,1227.2 L382.6,1224.9 L393.0,1222.6 L403.4,1220.1 L413.8,1217.6 L424.2,1215.0 L434.6,1212.4 L445.0,1209.6 L455.5,1206.7 L465.9,1203.8 L476.3,1200.8 L486.7,1197.6 L497.1,1194.4 L507.5,1191.0 L518.0,1187.6 L528.4,1184.1 L538.8,1180.4 L549.3,1176.8 L560.0,1173.3 L570.7,1169.8 L581.4,1166.2 L592.1,1162.5 L602.8,1158.7 L613.5,1154.8 L624.2,1150.8 L634.9,1146.7 L645.6,1142.4 L656.3,1138.1 L667.0,1133.6 L677.7,1129.1 L688.3,1124.4 L698.9,1119.6 L709.5,1114.7 L720.1,1109.6 L730.7,1104.4 L741.3,1099.1 L751.9,1093.7 L762.5,1088.1 L773.1,1082.3 L783.7,1076.5 L794.4,1070.4 L805.0,1064.3 L815.5,1057.9 L826.0,1051.5 L836.5,1044.8 L847.0,1038.0 L857.5,1031.0 L867.9,1023.9 L878.4,1016.5 L888.9,1009.0 L899.4,1001.3 L909.9,993.5 L920.4,985.4 L930.9,977.1 L941.5,968.7 L952.1,960.0 L962.8,951.1 L973.4,942.1 L984.0,932.7 L994.7,923.2 L1005.3,913.5 L1016.0,903.5 L1026.6,893.3 L1037.3,882.8 L1047.9,872.1 L1058.6,861.1 L1069.2,849.9 L1079.8,838.4 L1090.4,826.7 L1101.0,814.7 L1111.6,802.4 L1122.2,789.8 L1132.8,776.9 L1143.4,763.7 L1154.0,750.2 L1164.6,736.5 L1175.2,722.4 L1185.8,707.9 L1196.4,693.2 L1207.0,678.1 L1217.5,662.6 L1228.1,646.8 L1238.6,630.7 L1249.2,614.2 L1259.7,597.3 L1270.3,580.0 L1280.9,562.4 L1291.4,544.3 L1302.0,525.9 L1312.6,507.0 L1323.1,487.7 L1333.7,467.9 L1344.3,447.8 L1354.9,427.2 L1365.5,406.1 L1376.2,384.5 L1386.8,362.5 L1397.4,340.0 L1408.0,316.9 L1418.6,293.4 L1429.2,269.4 L1439.9,244.8 L1450.5,219.6 L1461.1,194.0 L1462.3,190.9" fill="none" stroke="#000" stroke-width="4.5" stroke-linejoin="round"/><line x1="288.7" y1="1301.0" x2="288.8" y2="1236.6" stroke="#000" stroke-width="3.2" /><line x1="287.2" y1="1291.0" x2="1981.1" y2="1294.0" stroke="#000" stroke-width="3.4" /><line x1="1972.1" y1="1304.0" x2="1975.1" y2="191.8" stroke="#000" stroke-width="2.8" /><path d="M311.0,1233.4 L329.5,1292.0 L365.0,1409.4" fill="none" stroke="#000" stroke-width="2.6" stroke-linejoin="round"/><path d="M715.7,1090.8 L783.7,1292.7 L822.5,1406.0" fill="none" stroke="#000" stroke-width="2.6" stroke-linejoin="round"/><path d="M1066.4,800.4 L1244.0,1293.0 L1257.1,1332.0" fill="none" stroke="#000" stroke-width="2.6" stroke-linejoin="round"/><path d="M1271.5,1374.4 L1285.4,1411.3" fill="none" stroke="#000" stroke-width="2.6" stroke-linejoin="round"/><path d="M1340.4,351.8 L1695.0,1294.0 L1699.3,1304.8" fill="none" stroke="#000" stroke-width="2.6" stroke-linejoin="round"/><path d="M1713.2,1340.5 L1741.2,1416.6" fill="none" stroke="#000" stroke-width="2.6" stroke-linejoin="round"/><path d="M1717.0,191.8 L1972.0,852.5" fill="none" stroke="#000" stroke-width="2.6" stroke-linejoin="round"/></g>
<g><text x="0" y="0" font-family="Liberation Sans" font-weight="bold" font-size="22.5" text-anchor="middle" fill="#000" stroke="#000" stroke-width="0.35" letter-spacing="0" transform="translate(856.7,912.5) rotate(-61.8) scale(1.0,1) translate(0,7.7)">40</text><text x="0" y="0" font-family="Liberation Sans" font-weight="bold" font-size="22.5" text-anchor="middle" fill="#000" stroke="#000" stroke-width="0.35" letter-spacing="0" transform="translate(884.2,861.1) rotate(-61.8) scale(1.0,1) translate(0,7.7)">45</text><text x="0" y="0" font-family="Liberation Sans" font-weight="bold" font-size="22.5" text-anchor="middle" fill="#000" stroke="#000" stroke-width="0.35" letter-spacing="0" transform="translate(911.8,809.7) rotate(-61.8) scale(1.0,1) translate(0,7.7)">50</text><text x="0" y="0" font-family="Liberation Sans" font-weight="bold" font-size="22.5" text-anchor="middle" fill="#000" stroke="#000" stroke-width="0.35" letter-spacing="0" transform="translate(939.3,758.2) rotate(-61.8) scale(1.0,1) translate(0,7.7)">55</text><text x="0" y="0" font-family="Liberation Sans" font-weight="bold" font-size="22.5" text-anchor="middle" fill="#000" stroke="#000" stroke-width="0.35" letter-spacing="0" transform="translate(966.9,706.8) rotate(-61.8) scale(1.0,1) translate(0,7.7)">60</text><text x="0" y="0" font-family="Liberation Sans" font-weight="bold" font-size="22.5" text-anchor="middle" fill="#000" stroke="#000" stroke-width="0.35" letter-spacing="0" transform="translate(994.4,655.4) rotate(-61.8) scale(1.0,1) translate(0,7.7)">65</text><text x="0" y="0" font-family="Liberation Sans" font-weight="bold" font-size="22.5" text-anchor="middle" fill="#000" stroke="#000" stroke-width="0.35" letter-spacing="0" transform="translate(1021.9,604.0) rotate(-61.8) scale(1.0,1) translate(0,7.7)">70</text><text x="0" y="0" font-family="Liberation Sans" font-weight="bold" font-size="22.5" text-anchor="middle" fill="#000" stroke="#000" stroke-width="0.35" letter-spacing="0" transform="translate(1049.5,552.6) rotate(-61.8) scale(1.0,1) translate(0,7.7)">75</text><text x="0" y="0" font-family="Liberation Sans" font-weight="bold" font-size="22.5" text-anchor="middle" fill="#000" stroke="#000" stroke-width="0.35" letter-spacing="0" transform="translate(1077.0,501.1) rotate(-61.8) scale(1.0,1) translate(0,7.7)">80</text><text x="0" y="0" font-family="Liberation Sans" font-weight="bold" font-size="22.5" text-anchor="middle" fill="#000" stroke="#000" stroke-width="0.35" letter-spacing="0" transform="translate(1104.6,449.7) rotate(-61.8) scale(1.0,1) translate(0,7.7)">85</text><text x="0" y="0" font-family="Liberation Sans" font-weight="bold" font-size="22.5" text-anchor="middle" fill="#000" stroke="#000" stroke-width="0.35" letter-spacing="0" transform="translate(1132.1,398.3) rotate(-61.8) scale(1.0,1) translate(0,7.7)">90</text><text x="0" y="0" font-family="Liberation Sans" font-weight="bold" font-size="22.5" text-anchor="middle" fill="#000" stroke="#000" stroke-width="0.35" letter-spacing="0" transform="translate(1159.6,346.9) rotate(-61.8) scale(1.0,1) translate(0,7.7)">95</text><text x="0" y="0" font-family="Liberation Sans" font-weight="bold" font-size="22.5" text-anchor="middle" fill="#000" stroke="#000" stroke-width="0.35" letter-spacing="0" transform="translate(1187.2,295.5) rotate(-61.8) scale(1.0,1) translate(0,7.7)">100</text><text x="0" y="0" font-family="Liberation Sans" font-weight="bold" font-size="22.5" text-anchor="middle" fill="#000" stroke="#000" stroke-width="0.35" letter-spacing="0" transform="translate(1214.7,244.0) rotate(-61.8) scale(1.0,1) translate(0,7.7)">105</text><text x="0" y="0" font-family="Liberation Sans" font-weight="bold" font-size="22.5" text-anchor="middle" fill="#000" stroke="#000" stroke-width="0.35" letter-spacing="0" transform="translate(1242.3,192.6) rotate(-61.8) scale(1.0,1) translate(0,7.7)">110</text><text x="0" y="0" font-family="Liberation Sans" font-weight="bold" font-size="22.5" text-anchor="middle" fill="#000" stroke="#000" stroke-width="0.35" letter-spacing="0" transform="translate(1269.8,141.2) rotate(-61.8) scale(1.0,1) translate(0,7.7)">115</text><text x="0" y="0" font-family="Liberation Sans" font-weight="bold" font-size="22.5" text-anchor="middle" fill="#000" stroke="#000" stroke-width="0.35" letter-spacing="0" transform="translate(657.1,1006.3) rotate(-61.8) scale(1.0,1) translate(0,7.7)">25</text><text x="0" y="0" font-family="Liberation Sans" font-weight="bold" font-size="22.5" text-anchor="middle" fill="#000" stroke="#000" stroke-width="0.35" letter-spacing="0" transform="translate(685.0,955.0) rotate(-61.8) scale(1.0,1) translate(0,7.7)">30</text><text x="0" y="0" font-family="Liberation Sans" font-weight="bold" font-size="22.5" text-anchor="middle" fill="#000" stroke="#000" stroke-width="0.35" letter-spacing="0" transform="translate(712.9,903.6) rotate(-61.8) scale(1.0,1) translate(0,7.7)">35</text><text x="0" y="0" font-family="Liberation Sans" font-weight="bold" font-size="22.5" text-anchor="middle" fill="#000" stroke="#000" stroke-width="0.35" letter-spacing="0" transform="translate(740.8,852.2) rotate(-61.8) scale(1.0,1) translate(0,7.7)">40</text><text x="0" y="0" font-family="Liberation Sans" font-weight="bold" font-size="22.5" text-anchor="middle" fill="#000" stroke="#000" stroke-width="0.35" letter-spacing="0" transform="translate(453.9,1102.9) rotate(-61.8) scale(1.0,1) translate(0,7.7)">10</text><text x="0" y="0" font-family="Liberation Sans" font-weight="bold" font-size="22.5" text-anchor="middle" fill="#000" stroke="#000" stroke-width="0.35" letter-spacing="0" transform="translate(482.1,1050.8) rotate(-61.8) scale(1.0,1) translate(0,7.7)">15</text><text x="0" y="0" font-family="Liberation Sans" font-weight="bold" font-size="22.5" text-anchor="middle" fill="#000" stroke="#000" stroke-width="0.35" letter-spacing="0" transform="translate(510.4,998.7) rotate(-61.8) scale(1.0,1) translate(0,7.7)">20</text><text x="0" y="0" font-family="Liberation Sans" font-weight="bold" font-size="22.5" text-anchor="middle" fill="#000" stroke="#000" stroke-width="0.35" letter-spacing="0" transform="translate(538.7,946.6) rotate(-61.8) scale(1.0,1) translate(0,7.7)">25</text><text x="0" y="0" font-family="Liberation Sans" font-weight="bold" font-size="22.5" text-anchor="middle" fill="#000" stroke="#000" stroke-width="0.35" letter-spacing="0" transform="translate(227.8,1247.2) rotate(-61.8) scale(1.0,1) translate(0,7.7)">−10</text><text x="0" y="0" font-family="Liberation Sans" font-weight="bold" font-size="22.5" text-anchor="middle" fill="#000" stroke="#000" stroke-width="0.35" letter-spacing="0" transform="translate(253.8,1198.1) rotate(-61.8) scale(1.0,1) translate(0,7.7)">−5</text><text x="0" y="0" font-family="Liberation Sans" font-weight="bold" font-size="22.5" text-anchor="middle" fill="#000" stroke="#000" stroke-width="0.35" letter-spacing="0" transform="translate(279.9,1148.9) rotate(-61.8) scale(1.0,1) translate(0,7.7)">0</text><text x="0" y="0" font-family="Liberation Sans" font-weight="bold" font-size="22.5" text-anchor="middle" fill="#000" stroke="#000" stroke-width="0.35" letter-spacing="0" transform="translate(305.9,1099.8) rotate(-61.8) scale(1.0,1) translate(0,7.7)">5</text><text x="0" y="0" font-family="Liberation Sans" font-weight="bold" font-size="22.5" text-anchor="middle" fill="#000" stroke="#000" stroke-width="0.35" letter-spacing="0" transform="translate(331.9,1050.7) rotate(-61.8) scale(1.0,1) translate(0,7.7)">10</text><text x="0" y="0" font-family="Liberation Sans" font-weight="bold" font-size="23" text-anchor="middle" fill="#000" stroke="#000" stroke-width="0.35" letter-spacing="0" transform="translate(1398.2,133.5) rotate(0) scale(1.0,1) translate(0,7.9)">120</text><text x="0" y="0" font-family="Liberation Sans" font-weight="bold" font-size="23" text-anchor="middle" fill="#000" stroke="#000" stroke-width="0.35" letter-spacing="0" transform="translate(1513.0,133.5) rotate(0) scale(1.0,1) translate(0,7.9)">125</text><text x="0" y="0" font-family="Liberation Sans" font-weight="bold" font-size="23" text-anchor="middle" fill="#000" stroke="#000" stroke-width="0.35" letter-spacing="0" transform="translate(1627.8,133.5) rotate(0) scale(1.0,1) translate(0,7.9)">130</text><text x="0" y="0" font-family="Liberation Sans" font-weight="bold" font-size="23" text-anchor="middle" fill="#000" stroke="#000" stroke-width="0.35" letter-spacing="0" transform="translate(1742.5,133.5) rotate(0) scale(1.0,1) translate(0,7.9)">135</text><text x="0" y="0" font-family="Liberation Sans" font-weight="bold" font-size="23" text-anchor="middle" fill="#000" stroke="#000" stroke-width="0.35" letter-spacing="0" transform="translate(1857.2,133.5) rotate(0) scale(1.0,1) translate(0,7.9)">140</text><text x="0" y="0" font-family="Liberation Sans" font-weight="bold" font-size="23" text-anchor="middle" fill="#000" stroke="#000" stroke-width="0.35" letter-spacing="0" transform="translate(1972.0,133.5) rotate(0) scale(1.0,1) translate(0,7.9)">145</text><text x="0" y="0" font-family="Liberation Sans" font-weight="bold" font-size="23" text-anchor="middle" fill="#000" stroke="#000" stroke-width="0.35" letter-spacing="0" transform="translate(1460.7,178.5) rotate(0) scale(1.0,1) translate(0,7.9)">35</text><text x="0" y="0" font-family="Liberation Sans" font-weight="bold" font-size="23" text-anchor="middle" fill="#000" stroke="#000" stroke-width="0.35" letter-spacing="0" transform="translate(1589.3,178.5) rotate(0) scale(1.0,1) translate(0,7.9)">40</text><text x="0" y="0" font-family="Liberation Sans" font-weight="bold" font-size="23" text-anchor="middle" fill="#000" stroke="#000" stroke-width="0.35" letter-spacing="0" transform="translate(1718.0,178.5) rotate(0) scale(1.0,1) translate(0,7.9)">45</text><text x="0" y="0" font-family="Liberation Sans" font-weight="bold" font-size="23" text-anchor="middle" fill="#000" stroke="#000" stroke-width="0.35" letter-spacing="0" transform="translate(1848.3,178.5) rotate(0) scale(1.0,1) translate(0,7.9)">50</text><text x="0" y="0" font-family="Liberation Sans" font-weight="bold" font-size="23" text-anchor="middle" fill="#000" stroke="#000" stroke-width="0.35" letter-spacing="0" transform="translate(1977.1,178.5) rotate(0) scale(1.0,1) translate(0,7.9)">55</text><text x="0" y="0" font-family="Liberation Sans" font-weight="bold" font-size="23" text-anchor="middle" fill="#000" stroke="#000" stroke-width="0.35" letter-spacing="0" transform="translate(287.7,1323.0) rotate(0) scale(1.0,1) translate(0,7.9)">−10</text><text x="0" y="0" font-family="Liberation Sans" font-weight="bold" font-size="23" text-anchor="middle" fill="#000" stroke="#000" stroke-width="0.35" letter-spacing="0" transform="translate(415.8,1323.0) rotate(0) scale(1.0,1) translate(0,7.9)">−5</text><text x="0" y="0" font-family="Liberation Sans" font-weight="bold" font-size="23" text-anchor="middle" fill="#000" stroke="#000" stroke-width="0.35" letter-spacing="0" transform="translate(543.9,1323.0) rotate(0) scale(1.0,1) translate(0,7.9)">0</text><text x="0" y="0" font-family="Liberation Sans" font-weight="bold" font-size="23" text-anchor="middle" fill="#000" stroke="#000" stroke-width="0.35" letter-spacing="0" transform="translate(675.4,1323.0) rotate(0) scale(1.0,1) translate(0,7.9)">5</text><text x="0" y="0" font-family="Liberation Sans" font-weight="bold" font-size="23" text-anchor="middle" fill="#000" stroke="#000" stroke-width="0.35" letter-spacing="0" transform="translate(805.8,1323.0) rotate(0) scale(1.0,1) translate(0,7.9)">10</text><text x="0" y="0" font-family="Liberation Sans" font-weight="bold" font-size="23" text-anchor="middle" fill="#000" stroke="#000" stroke-width="0.35" letter-spacing="0" transform="translate(934.7,1323.0) rotate(0) scale(1.0,1) translate(0,7.9)">15</text><text x="0" y="0" font-family="Liberation Sans" font-weight="bold" font-size="23" text-anchor="middle" fill="#000" stroke="#000" stroke-width="0.35" letter-spacing="0" transform="translate(1065.4,1323.0) rotate(0) scale(1.0,1) translate(0,7.9)">20</text><text x="0" y="0" font-family="Liberation Sans" font-weight="bold" font-size="23" text-anchor="middle" fill="#000" stroke="#000" stroke-width="0.35" letter-spacing="0" transform="translate(1195.4,1323.0) rotate(0) scale(1.0,1) translate(0,7.9)">25</text><text x="0" y="0" font-family="Liberation Sans" font-weight="bold" font-size="23" text-anchor="middle" fill="#000" stroke="#000" stroke-width="0.35" letter-spacing="0" transform="translate(1324.8,1323.0) rotate(0) scale(1.0,1) translate(0,7.9)">30</text><text x="0" y="0" font-family="Liberation Sans" font-weight="bold" font-size="23" text-anchor="middle" fill="#000" stroke="#000" stroke-width="0.35" letter-spacing="0" transform="translate(1454.7,1323.0) rotate(0) scale(1.0,1) translate(0,7.9)">35</text><text x="0" y="0" font-family="Liberation Sans" font-weight="bold" font-size="23" text-anchor="middle" fill="#000" stroke="#000" stroke-width="0.35" letter-spacing="0" transform="translate(1583.3,1323.0) rotate(0) scale(1.0,1) translate(0,7.9)">40</text><text x="0" y="0" font-family="Liberation Sans" font-weight="bold" font-size="23" text-anchor="middle" fill="#000" stroke="#000" stroke-width="0.35" letter-spacing="0" transform="translate(1712.0,1323.0) rotate(0) scale(1.0,1) translate(0,7.9)">45</text><text x="0" y="0" font-family="Liberation Sans" font-weight="bold" font-size="23" text-anchor="middle" fill="#000" stroke="#000" stroke-width="0.35" letter-spacing="0" transform="translate(1842.3,1323.0) rotate(0) scale(1.0,1) translate(0,7.9)">50</text><text x="0" y="0" font-family="Liberation Sans" font-weight="bold" font-size="23" text-anchor="middle" fill="#000" stroke="#000" stroke-width="0.35" letter-spacing="0" transform="translate(1971.1,1323.0) rotate(0) scale(1.0,1) translate(0,7.9)">55</text><text x="0" y="0" font-family="Liberation Sans" font-weight="bold" font-size="23.5" text-anchor="middle" fill="#000" stroke="#000" stroke-width="0.35" letter-spacing="0" transform="translate(2022.0,1293.0) rotate(0) scale(1.0,1) translate(0,8.1)">0·000</text><text x="0" y="0" font-family="Liberation Sans" font-weight="bold" font-size="23.5" text-anchor="middle" fill="#000" stroke="#000" stroke-width="0.35" letter-spacing="0" transform="translate(2022.0,1259.6) rotate(0) scale(1.0,1) translate(0,8.1)">0·001</text><text x="0" y="0" font-family="Liberation Sans" font-weight="bold" font-size="23.5" text-anchor="middle" fill="#000" stroke="#000" stroke-width="0.35" letter-spacing="0" transform="translate(2022.0,1226.2) rotate(0) scale(1.0,1) translate(0,8.1)">0·002</text><text x="0" y="0" font-family="Liberation Sans" font-weight="bold" font-size="23.5" text-anchor="middle" fill="#000" stroke="#000" stroke-width="0.35" letter-spacing="0" transform="translate(2022.0,1192.8) rotate(0) scale(1.0,1) translate(0,8.1)">0·003</text><text x="0" y="0" font-family="Liberation Sans" font-weight="bold" font-size="23.5" text-anchor="middle" fill="#000" stroke="#000" stroke-width="0.35" letter-spacing="0" transform="translate(2022.0,1159.4) rotate(0) scale(1.0,1) translate(0,8.1)">0·004</text><text x="0" y="0" font-family="Liberation Sans" font-weight="bold" font-size="23.5" text-anchor="middle" fill="#000" stroke="#000" stroke-width="0.35" letter-spacing="0" transform="translate(2022.0,1126.0) rotate(0) scale(1.0,1) translate(0,8.1)">0·005</text><text x="0" y="0" font-family="Liberation Sans" font-weight="bold" font-size="23.5" text-anchor="middle" fill="#000" stroke="#000" stroke-width="0.35" letter-spacing="0" transform="translate(2022.0,1092.6) rotate(0) scale(1.0,1) translate(0,8.1)">0·006</text><text x="0" y="0" font-family="Liberation Sans" font-weight="bold" font-size="23.5" text-anchor="middle" fill="#000" stroke="#000" stroke-width="0.35" letter-spacing="0" transform="translate(2022.0,1059.2) rotate(0) scale(1.0,1) translate(0,8.1)">0·007</text><text x="0" y="0" font-family="Liberation Sans" font-weight="bold" font-size="23.5" text-anchor="middle" fill="#000" stroke="#000" stroke-width="0.35" letter-spacing="0" transform="translate(2022.0,1025.8) rotate(0) scale(1.0,1) translate(0,8.1)">0·008</text><text x="0" y="0" font-family="Liberation Sans" font-weight="bold" font-size="23.5" text-anchor="middle" fill="#000" stroke="#000" stroke-width="0.35" letter-spacing="0" transform="translate(2022.0,992.4) rotate(0) scale(1.0,1) translate(0,8.1)">0·009</text><text x="0" y="0" font-family="Liberation Sans" font-weight="bold" font-size="23.5" text-anchor="middle" fill="#000" stroke="#000" stroke-width="0.35" letter-spacing="0" transform="translate(2022.0,959.0) rotate(0) scale(1.0,1) translate(0,8.1)">0·010</text><text x="0" y="0" font-family="Liberation Sans" font-weight="bold" font-size="23.5" text-anchor="middle" fill="#000" stroke="#000" stroke-width="0.35" letter-spacing="0" transform="translate(2022.0,925.6) rotate(0) scale(1.0,1) translate(0,8.1)">0·011</text><text x="0" y="0" font-family="Liberation Sans" font-weight="bold" font-size="23.5" text-anchor="middle" fill="#000" stroke="#000" stroke-width="0.35" letter-spacing="0" transform="translate(2022.0,892.2) rotate(0) scale(1.0,1) translate(0,8.1)">0·012</text><text x="0" y="0" font-family="Liberation Sans" font-weight="bold" font-size="23.5" text-anchor="middle" fill="#000" stroke="#000" stroke-width="0.35" letter-spacing="0" transform="translate(2022.0,858.8) rotate(0) scale(1.0,1) translate(0,8.1)">0·013</text><text x="0" y="0" font-family="Liberation Sans" font-weight="bold" font-size="23.5" text-anchor="middle" fill="#000" stroke="#000" stroke-width="0.35" letter-spacing="0" transform="translate(2022.0,825.4) rotate(0) scale(1.0,1) translate(0,8.1)">0·014</text><text x="0" y="0" font-family="Liberation Sans" font-weight="bold" font-size="23.5" text-anchor="middle" fill="#000" stroke="#000" stroke-width="0.35" letter-spacing="0" transform="translate(2022.0,792.0) rotate(0) scale(1.0,1) translate(0,8.1)">0·015</text><text x="0" y="0" font-family="Liberation Sans" font-weight="bold" font-size="23.5" text-anchor="middle" fill="#000" stroke="#000" stroke-width="0.35" letter-spacing="0" transform="translate(2022.0,758.6) rotate(0) scale(1.0,1) translate(0,8.1)">0·016</text><text x="0" y="0" font-family="Liberation Sans" font-weight="bold" font-size="23.5" text-anchor="middle" fill="#000" stroke="#000" stroke-width="0.35" letter-spacing="0" transform="translate(2022.0,725.2) rotate(0) scale(1.0,1) translate(0,8.1)">0·017</text><text x="0" y="0" font-family="Liberation Sans" font-weight="bold" font-size="23.5" text-anchor="middle" fill="#000" stroke="#000" stroke-width="0.35" letter-spacing="0" transform="translate(2022.0,691.8) rotate(0) scale(1.0,1) translate(0,8.1)">0·018</text><text x="0" y="0" font-family="Liberation Sans" font-weight="bold" font-size="23.5" text-anchor="middle" fill="#000" stroke="#000" stroke-width="0.35" letter-spacing="0" transform="translate(2022.0,658.4) rotate(0) scale(1.0,1) translate(0,8.1)">0·019</text><text x="0" y="0" font-family="Liberation Sans" font-weight="bold" font-size="23.5" text-anchor="middle" fill="#000" stroke="#000" stroke-width="0.35" letter-spacing="0" transform="translate(2022.0,625.0) rotate(0) scale(1.0,1) translate(0,8.1)">0·020</text><text x="0" y="0" font-family="Liberation Sans" font-weight="bold" font-size="23.5" text-anchor="middle" fill="#000" stroke="#000" stroke-width="0.35" letter-spacing="0" transform="translate(2022.0,591.6) rotate(0) scale(1.0,1) translate(0,8.1)">0·021</text><text x="0" y="0" font-family="Liberation Sans" font-weight="bold" font-size="23.5" text-anchor="middle" fill="#000" stroke="#000" stroke-width="0.35" letter-spacing="0" transform="translate(2022.0,558.2) rotate(0) scale(1.0,1) translate(0,8.1)">0·022</text><text x="0" y="0" font-family="Liberation Sans" font-weight="bold" font-size="23.5" text-anchor="middle" fill="#000" stroke="#000" stroke-width="0.35" letter-spacing="0" transform="translate(2022.0,524.8) rotate(0) scale(1.0,1) translate(0,8.1)">0·023</text><text x="0" y="0" font-family="Liberation Sans" font-weight="bold" font-size="23.5" text-anchor="middle" fill="#000" stroke="#000" stroke-width="0.35" letter-spacing="0" transform="translate(2022.0,491.4) rotate(0) scale(1.0,1) translate(0,8.1)">0·024</text><text x="0" y="0" font-family="Liberation Sans" font-weight="bold" font-size="23.5" text-anchor="middle" fill="#000" stroke="#000" stroke-width="0.35" letter-spacing="0" transform="translate(2022.0,458.0) rotate(0) scale(1.0,1) translate(0,8.1)">0·025</text><text x="0" y="0" font-family="Liberation Sans" font-weight="bold" font-size="23.5" text-anchor="middle" fill="#000" stroke="#000" stroke-width="0.35" letter-spacing="0" transform="translate(2022.0,424.6) rotate(0) scale(1.0,1) translate(0,8.1)">0·026</text><text x="0" y="0" font-family="Liberation Sans" font-weight="bold" font-size="23.5" text-anchor="middle" fill="#000" stroke="#000" stroke-width="0.35" letter-spacing="0" transform="translate(2022.0,391.2) rotate(0) scale(1.0,1) translate(0,8.1)">0·027</text><text x="0" y="0" font-family="Liberation Sans" font-weight="bold" font-size="23.5" text-anchor="middle" fill="#000" stroke="#000" stroke-width="0.35" letter-spacing="0" transform="translate(2022.0,357.8) rotate(0) scale(1.0,1) translate(0,8.1)">0·028</text><text x="0" y="0" font-family="Liberation Sans" font-weight="bold" font-size="23.5" text-anchor="middle" fill="#000" stroke="#000" stroke-width="0.35" letter-spacing="0" transform="translate(2022.0,324.4) rotate(0) scale(1.0,1) translate(0,8.1)">0·029</text><text x="0" y="0" font-family="Liberation Sans" font-weight="bold" font-size="23.5" text-anchor="middle" fill="#000" stroke="#000" stroke-width="0.35" letter-spacing="0" transform="translate(2022.0,291.0) rotate(0) scale(1.0,1) translate(0,8.1)">0·030</text><text x="0" y="0" font-family="Liberation Sans" font-weight="bold" font-size="23.5" text-anchor="middle" fill="#000" stroke="#000" stroke-width="0.35" letter-spacing="0" transform="translate(2022.0,257.6) rotate(0) scale(1.0,1) translate(0,8.1)">0·031</text><text x="0" y="0" font-family="Liberation Sans" font-weight="bold" font-size="23.5" text-anchor="middle" fill="#000" stroke="#000" stroke-width="0.35" letter-spacing="0" transform="translate(2022.0,224.2) rotate(0) scale(1.0,1) translate(0,8.1)">0·032</text><text x="0" y="0" font-family="Liberation Sans" font-weight="bold" font-size="23.5" text-anchor="middle" fill="#000" stroke="#000" stroke-width="0.35" letter-spacing="0" transform="translate(2022.0,190.8) rotate(0) scale(1.0,1) translate(0,8.1)">0·033</text><text x="0" y="0" font-family="Liberation Sans" font-weight="bold" font-size="23" text-anchor="middle" fill="#000" stroke="#000" stroke-width="0.35" letter-spacing="0" transform="translate(670.0,1095.0) rotate(-25) scale(1.0,1) translate(0,7.9)">5</text><text x="0" y="0" font-family="Liberation Sans" font-weight="bold" font-size="23" text-anchor="middle" fill="#000" stroke="#000" stroke-width="0.35" letter-spacing="0" transform="translate(798.0,1018.0) rotate(-40) scale(1.0,1) translate(0,7.9)">10</text><text x="0" y="0" font-family="Liberation Sans" font-weight="bold" font-size="23" text-anchor="middle" fill="#000" stroke="#000" stroke-width="0.35" letter-spacing="0" transform="translate(925.0,915.0) rotate(-50) scale(1.0,1) translate(0,7.9)">15</text><text x="0" y="0" font-family="Liberation Sans" font-weight="bold" font-size="23" text-anchor="middle" fill="#000" stroke="#000" stroke-width="0.35" letter-spacing="0" transform="translate(1058.0,783.0) rotate(-55) scale(1.0,1) translate(0,7.9)">20</text><text x="0" y="0" font-family="Liberation Sans" font-weight="bold" font-size="23" text-anchor="middle" fill="#000" stroke="#000" stroke-width="0.35" letter-spacing="0" transform="translate(1183.0,607.0) rotate(-60) scale(1.0,1) translate(0,7.9)">25</text><text x="0" y="0" font-family="Liberation Sans" font-weight="bold" font-size="23" text-anchor="middle" fill="#000" stroke="#000" stroke-width="0.35" letter-spacing="0" transform="translate(1317.0,368.0) rotate(-63) scale(1.0,1) translate(0,7.9)">30</text><text x="0" y="0" font-family="Liberation Sans" font-weight="bold" font-size="23" text-anchor="middle" fill="#000" stroke="#000" stroke-width="0.35" letter-spacing="0" transform="translate(540.0,1152.0) rotate(-60) scale(1.0,1) translate(0,7.9)">0</text><text x="0" y="0" font-family="Liberation Sans" font-weight="bold" font-size="23" text-anchor="middle" fill="#000" stroke="#000" stroke-width="0.35" letter-spacing="0" transform="translate(405.0,1193.0) rotate(-25) scale(1.0,1) translate(0,7.9)">−5</text><text x="0" y="0" font-family="Liberation Sans" font-weight="normal" font-size="23" text-anchor="middle" fill="#000" stroke="#000" stroke-width="0.5" letter-spacing="0" transform="translate(1372.0,337.0) rotate(-63) scale(1.0,1) translate(0,7.9)">90%</text><text x="0" y="0" font-family="Liberation Sans" font-weight="normal" font-size="23" text-anchor="middle" fill="#000" stroke="#000" stroke-width="0.5" letter-spacing="0" transform="translate(1400.0,398.0) rotate(-63) scale(1.0,1) translate(0,7.9)">80%</text><text x="0" y="0" font-family="Liberation Sans" font-weight="normal" font-size="23" text-anchor="middle" fill="#000" stroke="#000" stroke-width="0.5" letter-spacing="0" transform="translate(1430.0,462.0) rotate(-60) scale(1.0,1) translate(0,7.9)">70%</text><text x="0" y="0" font-family="Liberation Sans" font-weight="normal" font-size="23" text-anchor="middle" fill="#000" stroke="#000" stroke-width="0.5" letter-spacing="0" transform="translate(1455.0,540.0) rotate(-58) scale(1.0,1) translate(0,7.9)">60%</text><text x="0" y="0" font-family="Liberation Sans" font-weight="normal" font-size="23" text-anchor="middle" fill="#000" stroke="#000" stroke-width="0.5" letter-spacing="0" transform="translate(1488.0,605.0) rotate(-55) scale(1.0,1) translate(0,7.9)">50%</text><text x="0" y="0" font-family="Liberation Sans" font-weight="normal" font-size="23" text-anchor="middle" fill="#000" stroke="#000" stroke-width="0.5" letter-spacing="0" transform="translate(1528.0,710.0) rotate(-52) scale(1.0,1) translate(0,7.9)">40%</text><text x="0" y="0" font-family="Liberation Sans" font-weight="normal" font-size="23" text-anchor="middle" fill="#000" stroke="#000" stroke-width="0.5" letter-spacing="0" transform="translate(1562.0,822.0) rotate(-47) scale(1.0,1) translate(0,7.9)">30%</text><text x="0" y="0" font-family="Liberation Sans" font-weight="normal" font-size="23" text-anchor="middle" fill="#000" stroke="#000" stroke-width="0.5" letter-spacing="0" transform="translate(1608.0,945.0) rotate(-38) scale(1.0,1) translate(0,7.9)">20%</text><text x="0" y="0" font-family="Liberation Sans" font-weight="normal" font-size="23" text-anchor="middle" fill="#000" stroke="#000" stroke-width="0.5" letter-spacing="0" transform="translate(1665.0,1095.0) rotate(-22) scale(1.0,1) translate(0,7.9)">10%</text><text x="0" y="0" font-family="Liberation Sans" font-weight="bold" font-size="23" text-anchor="middle" fill="#000" stroke="#000" stroke-width="0.35" letter-spacing="0" transform="translate(368.0,1425.0) rotate(0) scale(1.0,1) translate(0,7.9)">0.75</text><text x="0" y="0" font-family="Liberation Sans" font-weight="bold" font-size="23" text-anchor="middle" fill="#000" stroke="#000" stroke-width="0.35" letter-spacing="0" transform="translate(822.0,1425.0) rotate(0) scale(1.0,1) translate(0,7.9)">0.80</text><text x="0" y="0" font-family="Liberation Sans" font-weight="bold" font-size="23" text-anchor="middle" fill="#000" stroke="#000" stroke-width="0.35" letter-spacing="0" transform="translate(1281.0,1427.0) rotate(0) scale(1.0,1) translate(0,7.9)">0.85</text><text x="0" y="0" font-family="Liberation Sans" font-weight="bold" font-size="23" text-anchor="middle" fill="#000" stroke="#000" stroke-width="0.35" letter-spacing="0" transform="translate(1740.0,1428.0) rotate(0) scale(1.0,1) translate(0,7.9)">0.90</text><g transform="translate(1194.0,534.0) rotate(-60)"><g fill="none" stroke="#000" stroke-width="2.20" stroke-linecap="butt" stroke-linejoin="miter" ><path d="M2.9,6.3 L9.5,0.0 L16.1,6.3 M0.0,7.8 L19.0,7.8 M1.9,12.2 L1.9,19.0 L17.1,19.0 L17.1,12.2 M1.9,15.0 L17.1,15.0"/></g><g fill="none" stroke="#000" stroke-width="2.20" stroke-linecap="butt" stroke-linejoin="miter" ><path d="M26.3,0.4 L40.7,0.4 L40.7,7.6 M24.0,10.5 L43.0,10.5 M33.5,10.5 L33.5,19.0"/></g><g fill="none" stroke="#000" stroke-width="2.20" stroke-linecap="butt" stroke-linejoin="miter" ><path d="M57.5,5.6 L57.5,9.9 M48.0,9.9 L67.0,9.9 M49.9,12.2 L49.9,19.0 L65.1,19.0"/><ellipse cx="57.5" cy="3.1" rx="2.9" ry="2.9"/></g><g fill="none" stroke="#000" stroke-width="2.20" stroke-linecap="butt" stroke-linejoin="miter" ><path d="M88.7,0.8 L74.3,0.8 L74.3,9.9 L88.7,9.9 M81.5,10.7 L81.5,18.1 M72.0,18.1 L91.0,18.1"/></g><circle cx="100" cy="4" r="3" fill="none" stroke="#000" stroke-width="1.6"/><text x="0" y="0" transform="translate(106.0,19.0) scale(1.0,1)" font-family="Liberation Sans" font-weight="normal" font-size="24" fill="#000">C</text></g><g transform="translate(1503.0,572.0) rotate(-55)"><g fill="none" stroke="#000" stroke-width="2.30" stroke-linecap="butt" stroke-linejoin="miter" ><path d="M0.8,8.7 L5.7,1.1 L10.6,8.7 M13.4,0.0 L13.4,11.8 M13.4,5.7 L18.6,5.7"/><ellipse cx="9.5" cy="15.6" rx="3.1" ry="3.1"/></g><g fill="none" stroke="#000" stroke-width="2.30" stroke-linecap="butt" stroke-linejoin="miter" ><path d="M34.5,1.9 L24.6,1.9 L24.6,16.1 L34.5,16.1 M36.2,0.0 L36.2,19.0 M36.2,9.1 L39.2,9.1 M41.7,0.0 L41.7,19.0"/></g><g fill="none" stroke="#000" stroke-width="2.30" stroke-linecap="butt" stroke-linejoin="miter" ><path d="M50.9,6.3 L57.5,0.0 L64.2,6.3 M48.0,7.8 L67.0,7.8 M49.9,12.2 L49.9,19.0 L65.1,19.0 L65.1,12.2 M49.9,15.0 L65.1,15.0"/></g><g fill="none" stroke="#000" stroke-width="2.30" stroke-linecap="butt" stroke-linejoin="miter" ><path d="M88.7,0.8 L74.3,0.8 L74.3,9.9 L88.7,9.9 M81.5,10.7 L81.5,18.1 M72.0,18.1 L91.0,18.1"/></g></g><g transform="translate(954.0,611.0) rotate(-59)"><g fill="none" stroke="#000" stroke-width="2.20" stroke-linecap="butt" stroke-linejoin="miter" ><path d="M15.5,0.0 L15.5,13.0 M11.4,6.2 L15.5,6.2 M19.1,0.0 L19.1,13.0 M2.0,13.4 L2.0,21.0 L18.0,21.0"/><ellipse cx="6.0" cy="5.5" rx="3.9" ry="3.9"/></g><g fill="none" stroke="#000" stroke-width="2.20" stroke-linecap="butt" stroke-linejoin="miter" ><path d="M35.7,1.3 L25.3,1.3 L25.3,9.7 L35.7,9.7 M25.3,5.5 L35.7,5.5 M38.6,0.0 L38.6,13.0 M38.6,6.2 L44.0,6.2 M26.5,13.4 L42.5,13.4 L42.5,17.2 L26.5,17.2 L26.5,21.0 L42.5,21.0"/></g><g fill="none" stroke="#000" stroke-width="2.20" stroke-linecap="butt" stroke-linejoin="miter" ><path d="M49.6,2.1 L60.0,2.1 M52.5,2.1 L52.5,17.8 M57.1,2.1 L57.1,17.8 M49.6,17.8 L60.0,17.8 M65.0,0.0 L65.0,21.0"/></g><text x="0" y="0" transform="translate(70.0,21.0) scale(1.0,1)" font-family="Liberation Sans" font-weight="normal" font-size="26" fill="#000">(</text><g fill="none" stroke="#000" stroke-width="2.20" stroke-linecap="butt" stroke-linejoin="miter" ><path d="M80.8,1.3 L91.2,1.3 L91.2,9.7 M97.8,0.0 L97.8,13.0 M91.9,5.9 L97.8,5.9 M82.0,13.4 L82.0,21.0 L98.0,21.0"/></g><g fill="none" stroke="#000" stroke-width="2.20" stroke-linecap="butt" stroke-linejoin="miter" ><path d="M107.5,0.0 L121.5,0.0 L121.5,6.9 M114.5,6.2 L114.5,11.0 M104.5,11.0 L124.5,11.0"/><ellipse cx="114.5" cy="17.2" rx="3.5" ry="3.5"/></g><g fill="none" stroke="#000" stroke-width="2.20" stroke-linecap="butt" stroke-linejoin="miter" ><path d="M129.6,2.1 L140.0,2.1 L140.0,17.8 M144.9,0.0 L144.9,21.0"/></g><text x="0" y="0" transform="translate(150.0,21.0) scale(1.0,1)" font-family="Liberation Sans" font-weight="normal" font-size="26" fill="#000">)</text><text x="0" y="0" transform="translate(167.0,21.0) scale(1.0,1)" font-family="Liberation Sans" font-weight="normal" font-size="27" fill="#000">kJ/kg</text></g><g transform="translate(1139.4,1346.6) rotate(0)"><g fill="none" stroke="#000" stroke-width="2.60" stroke-linecap="butt" stroke-linejoin="miter" ><path d="M0.8,1.1 L10.9,1.1 L10.9,8.5 M17.3,0.0 L17.3,11.5 M11.6,5.2 L17.3,5.2 M2.0,11.8 L2.0,18.5 L17.6,18.5"/></g><g fill="none" stroke="#000" stroke-width="2.60" stroke-linecap="butt" stroke-linejoin="miter" ><path d="M25.5,0.4 L40.7,0.4 L40.7,7.4 M23.1,10.2 L43.1,10.2 M33.1,10.2 L33.1,18.5"/></g><g fill="none" stroke="#000" stroke-width="2.60" stroke-linecap="butt" stroke-linejoin="miter" ><path d="M57.0,5.5 L57.0,9.7 M48.0,9.7 L66.0,9.7 M49.8,11.8 L49.8,18.5 L64.2,18.5"/><ellipse cx="57.0" cy="3.1" rx="2.7" ry="2.7"/></g><g fill="none" stroke="#000" stroke-width="2.60" stroke-linecap="butt" stroke-linejoin="miter" ><path d="M89.3,0.7 L74.4,0.7 L74.4,9.6 L89.3,9.6 M81.8,10.4 L81.8,17.6 M72.1,17.6 L91.6,17.6"/></g><circle cx="101.5" cy="4.5" r="3.6" fill="none" stroke="#000" stroke-width="1.8"/><text x="0" y="0" transform="translate(107.0,18.5) scale(1.0,1)" font-family="Liberation Sans" font-weight="normal" font-size="26" fill="#000">C</text></g><g transform="translate(926.8,1413.2) rotate(0)"><g fill="none" stroke="#000" stroke-width="2.60" stroke-linecap="butt" stroke-linejoin="miter" ><path d="M0.5,1.9 L0.5,15.7 L8.6,15.7 L8.6,1.9 M0.5,7.7 L8.6,7.7 M12.5,0.0 L12.5,18.5"/></g><g fill="none" stroke="#000" stroke-width="2.60" stroke-linecap="butt" stroke-linejoin="miter" ><path d="M27.5,0.2 L27.5,3.2 M23.6,4.3 L31.4,4.3 M23.6,15.7 L27.5,7.1 L31.4,15.7 M34.7,0.0 L34.7,18.5 M31.7,8.9 L34.7,8.9 M37.4,0.0 L37.4,18.5"/></g><g fill="none" stroke="#000" stroke-width="2.60" stroke-linecap="butt" stroke-linejoin="miter" ><path d="M46.9,1.1 L56.6,1.1 M46.9,8.5 L51.8,2.6 L56.6,8.5 M62.6,0.0 L62.6,11.5 M57.2,5.2 L62.6,5.2 M48.1,11.8 L62.9,11.8 L62.9,18.5"/></g><text x="0" y="0" transform="translate(72.0,18.0) scale(1.0,1)" font-family="Liberation Sans" font-weight="normal" font-size="21" fill="#000">(</text><g fill="none" stroke="#000" stroke-width="2.60" stroke-linecap="butt" stroke-linejoin="miter" ><path d="M82.9,1.1 L92.6,1.1 L92.6,8.5 M98.6,0.0 L98.6,11.5 M93.2,5.2 L98.6,5.2 M84.0,11.8 L84.0,18.5 L98.9,18.5"/></g><g fill="none" stroke="#000" stroke-width="2.60" stroke-linecap="butt" stroke-linejoin="miter" ><path d="M108.2,0.0 L121.1,0.0 L121.1,6.1 M114.7,5.5 L114.7,9.7 M105.4,9.7 L123.9,9.7"/><ellipse cx="114.7" cy="15.2" rx="3.0" ry="3.0"/></g><g fill="none" stroke="#000" stroke-width="2.60" stroke-linecap="butt" stroke-linejoin="miter" ><path d="M131.7,1.9 L140.4,1.9 L140.4,15.7 M144.5,0.0 L144.5,18.5"/></g><text x="0" y="0" transform="translate(152.0,18.0) scale(1.0,1)" font-family="Liberation Sans" font-weight="normal" font-size="21" fill="#000">)</text><text x="0" y="0" transform="translate(168.6,18.5) scale(1.0,1)" font-family="Liberation Sans" font-weight="normal" font-size="25" fill="#000">m</text><text x="0" y="0" transform="translate(190.0,8.5) scale(1.0,1)" font-family="Liberation Sans" font-weight="normal" font-size="18" fill="#000">3</text><text x="0" y="0" transform="translate(199.5,18.5) scale(1.0,1)" font-family="Liberation Sans" font-weight="normal" font-size="25" fill="#000">/kg</text></g><g transform="translate(2074.0,823.0) rotate(-90)"><g fill="none" stroke="#000" stroke-width="2.80" stroke-linecap="butt" stroke-linejoin="miter" ><path d="M0.7,1.1 L9.5,1.1 M0.7,8.7 L5.1,2.7 L9.5,8.7 M15.1,0.0 L15.1,11.8 M10.1,5.3 L15.1,5.3 M1.7,12.2 L15.3,12.2 L15.3,15.6 L1.7,15.6 L1.7,19.0 L15.3,19.0"/></g><g fill="none" stroke="#000" stroke-width="2.80" stroke-linecap="butt" stroke-linejoin="miter" ><path d="M34.2,1.9 L26.9,1.9 L26.9,16.1 L34.2,16.1 M35.5,0.0 L35.5,19.0 M35.5,9.1 L37.7,9.1 M39.6,0.0 L39.6,19.0"/></g><g fill="none" stroke="#000" stroke-width="2.80" stroke-linecap="butt" stroke-linejoin="miter" ><path d="M52.0,6.3 L59.0,0.0 L66.0,6.3 M49.0,7.8 L69.0,7.8 M51.0,12.2 L51.0,19.0 L67.0,19.0 L67.0,12.2 M51.0,15.0 L67.0,15.0"/></g><g fill="none" stroke="#000" stroke-width="2.80" stroke-linecap="butt" stroke-linejoin="miter" ><path d="M91.0,0.8 L78.0,0.8 L78.0,9.9 L91.0,9.9 M84.5,10.7 L84.5,18.1 M76.0,18.1 L93.0,18.1"/></g><text x="0" y="0" transform="translate(103.0,19.0) scale(1.0,1)" font-family="Liberation Sans" font-weight="normal" font-size="26" fill="#000">kg/kg</text></g></g>
<rect x="249.2" y="212.9" width="16.8" height="18.5" fill="#000"/><g fill="none" stroke="#000" stroke-width="3.80" stroke-linecap="butt" stroke-linejoin="miter" ><path d="M298.5,212.6 L307.8,204.0 L317.0,212.6 M294.6,214.6 L320.9,214.6 M297.2,220.6 L297.2,230.0 L318.3,230.0 L318.3,220.6 M297.2,224.6 L318.3,224.6"/></g><g fill="none" stroke="#000" stroke-width="3.80" stroke-linecap="butt" stroke-linejoin="miter" ><path d="M338.2,204.0 L356.6,204.0 L356.6,212.6 M347.4,211.7 L347.4,217.6 M334.2,217.6 L360.6,217.6"/><ellipse cx="347.4" cy="225.3" rx="4.2" ry="4.2"/></g><g fill="none" stroke="#000" stroke-width="3.80" stroke-linecap="butt" stroke-linejoin="miter" ><path d="M374.5,206.6 L386.4,206.6 L386.4,226.1 M392.1,204.0 L392.1,230.0"/></g><g fill="none" stroke="#000" stroke-width="3.80" stroke-linecap="butt" stroke-linejoin="miter" ><path d="M414.4,216.0 L420.6,205.6 L426.8,216.0 M434.5,204.0 L434.5,220.1 M427.6,211.3 L434.5,211.3 M415.9,220.6 L415.9,230.0 L434.8,230.0"/></g><g fill="none" stroke="#000" stroke-width="3.80" stroke-linecap="butt" stroke-linejoin="miter" ><path d="M476.0,205.0 L454.7,205.0 L454.7,217.5 L476.0,217.5 M465.4,218.6 L465.4,228.8 M451.3,228.8 L479.4,228.8"/></g><text x="0" y="0" transform="translate(536.3,230) scale(0.74,1)" text-anchor="middle" font-family="Liberation Sans" font-weight="bold" font-size="38.8" fill="#000">P</text><text x="0" y="0" transform="translate(561.8,230) scale(0.74,1)" text-anchor="middle" font-family="Liberation Sans" font-weight="bold" font-size="38.8" fill="#000">S</text><text x="0" y="0" transform="translate(589.0,230) scale(0.74,1)" text-anchor="middle" font-family="Liberation Sans" font-weight="bold" font-size="38.8" fill="#000">Y</text><text x="0" y="0" transform="translate(615.6,230) scale(0.74,1)" text-anchor="middle" font-family="Liberation Sans" font-weight="bold" font-size="38.8" fill="#000">C</text><text x="0" y="0" transform="translate(642.2,230) scale(0.74,1)" text-anchor="middle" font-family="Liberation Sans" font-weight="bold" font-size="38.8" fill="#000">H</text><text x="0" y="0" transform="translate(668.8,230) scale(0.74,1)" text-anchor="middle" font-family="Liberation Sans" font-weight="bold" font-size="38.8" fill="#000">R</text><text x="0" y="0" transform="translate(695.5,230) scale(0.74,1)" text-anchor="middle" font-family="Liberation Sans" font-weight="bold" font-size="38.8" fill="#000">O</text><text x="0" y="0" transform="translate(725.1,230) scale(0.74,1)" text-anchor="middle" font-family="Liberation Sans" font-weight="bold" font-size="38.8" fill="#000">M</text><text x="0" y="0" transform="translate(754.8,230) scale(0.74,1)" text-anchor="middle" font-family="Liberation Sans" font-weight="bold" font-size="38.8" fill="#000">E</text><text x="0" y="0" transform="translate(780.2,230) scale(0.74,1)" text-anchor="middle" font-family="Liberation Sans" font-weight="bold" font-size="38.8" fill="#000">T</text><text x="0" y="0" transform="translate(807.5,230) scale(0.74,1)" text-anchor="middle" font-family="Liberation Sans" font-weight="bold" font-size="38.8" fill="#000">R</text><text x="0" y="0" transform="translate(827.4,230) scale(0.74,1)" text-anchor="middle" font-family="Liberation Sans" font-weight="bold" font-size="38.8" fill="#000">I</text><text x="0" y="0" transform="translate(849.2,230) scale(0.74,1)" text-anchor="middle" font-family="Liberation Sans" font-weight="bold" font-size="38.8" fill="#000">C</text><text x="0" y="0" transform="translate(895.2,230) scale(0.74,1)" text-anchor="middle" font-family="Liberation Sans" font-weight="bold" font-size="38.8" fill="#000">C</text><text x="0" y="0" transform="translate(923.0,230) scale(0.74,1)" text-anchor="middle" font-family="Liberation Sans" font-weight="bold" font-size="38.8" fill="#000">H</text><text x="0" y="0" transform="translate(949.0,230) scale(0.74,1)" text-anchor="middle" font-family="Liberation Sans" font-weight="bold" font-size="38.8" fill="#000">A</text><text x="0" y="0" transform="translate(976.3,230) scale(0.74,1)" text-anchor="middle" font-family="Liberation Sans" font-weight="bold" font-size="38.8" fill="#000">R</text><text x="0" y="0" transform="translate(1003.5,230) scale(0.74,1)" text-anchor="middle" font-family="Liberation Sans" font-weight="bold" font-size="38.8" fill="#000">T</text><path d="M517,200 Q506,216.5 517,233" fill="none" stroke="#000" stroke-width="2.6"/><path d="M1022,200 Q1033,216.5 1022,233" fill="none" stroke="#000" stroke-width="2.6"/>
<path d="M254.3,329.2 C240,313 239,288 254,274 C272,258 305,264 314.6,303.9 C304,287 293,278.5 280,277.8 C264,279 252,293 251.2,308 C251,317 252.3,324 254.3,329.2 Z" fill="#f6d31c"/>
<path d="M270.6,328.6 L270.6,311.1 L261.5,309.3 L289.3,283.3 L313.4,308.7 M270.6,328.6 L306.2,328.6 L306.2,308.1 L277.2,308.1 L277.2,322.6 L299.6,322.6 L299.6,313.5" fill="none" stroke="#f7821b" stroke-width="3.1" stroke-linejoin="round" stroke-linecap="round"/>
<rect x="246.1" y="332.8" width="69.1" height="13.9" rx="6.9" fill="#58b523"/>
<text x="0" y="0" transform="translate(281,345.3) scale(0.92,1)" text-anchor="middle" font-family="Liberation Sans" font-weight="bold" font-size="15" fill="#fff">PHIKO</text>
<text x="0" y="0" transform="translate(326.1,290) scale(0.897,1)" font-family="Liberation Sans" font-weight="bold" font-size="23" xml:space="preserve"><tspan fill="#3e8e1f">P</tspan><tspan fill="#1a1a1a">assive</tspan><tspan fill="#1a1a1a"> </tspan><tspan fill="#3e8e1f">H</tspan><tspan fill="#1a1a1a">ouse</tspan><tspan fill="#1a1a1a"> </tspan><tspan fill="#3e8e1f">I</tspan><tspan fill="#1a1a1a">nstitute</tspan><tspan fill="#1a1a1a"> </tspan><tspan fill="#3e8e1f">Ko</tspan><tspan fill="#1a1a1a">rea</tspan></text><g fill="none" stroke="#1a1a1a" stroke-width="4.30" stroke-linecap="butt" stroke-linejoin="miter" ><path d="M332.8,299.8 L332.8,303.2 M327.2,304.9 L338.5,304.9 M341.7,299.0 L341.7,325.0 M341.7,311.5 L347.6,311.5 M328.5,325.9 L328.5,341.0 L345.9,341.0"/><ellipse cx="332.8" cy="312.8" rx="4.0" ry="4.0"/></g><g fill="none" stroke="#1a1a1a" stroke-width="4.30" stroke-linecap="butt" stroke-linejoin="miter" ><path d="M361.3,299.0 L382.5,299.0 L382.5,312.9 M356.8,311.4 L387.0,311.4 M371.9,311.4 L371.9,323.4 M359.8,325.9 L384.0,325.9 L384.0,341.0"/></g><g fill="none" stroke="#3e8e1f" stroke-width="4.30" stroke-linecap="butt" stroke-linejoin="miter" ><path d="M394.5,303.2 L408.3,303.2 M398.4,303.2 L398.4,334.7 M404.4,303.2 L404.4,334.7 M394.5,334.7 L408.3,334.7 M410.7,299.0 L410.7,341.0 M410.7,319.2 L414.8,319.2 M418.4,299.0 L418.4,341.0"/></g><g fill="none" stroke="#3e8e1f" stroke-width="4.30" stroke-linecap="butt" stroke-linejoin="miter" ><path d="M428.5,334.7 L433.0,303.2 L437.5,334.7 M441.7,299.0 L441.7,341.0"/></g><g fill="none" stroke="#3e8e1f" stroke-width="4.30" stroke-linecap="butt" stroke-linejoin="miter" ><path d="M462.9,300.7 L462.9,320.8 L485.1,320.8 L485.1,300.7 M462.9,309.1 L485.1,309.1 M459.4,330.8 L488.6,330.8"/></g><g fill="none" stroke="#1a1a1a" stroke-width="4.30" stroke-linecap="butt" stroke-linejoin="miter" ><path d="M497.3,301.5 L510.6,301.5 L510.6,318.3 M519.0,299.0 L519.0,325.0 M511.5,310.7 L519.0,310.7 M498.9,325.9 L498.9,341.0 L519.3,341.0"/></g><g fill="none" stroke="#1a1a1a" stroke-width="4.30" stroke-linecap="butt" stroke-linejoin="miter" ><path d="M542.9,297.3 L542.9,300.4 M532.9,301.5 L552.8,301.5 M532.9,312.9 L542.9,304.3 L552.8,312.9 M528.7,311.4 L557.0,311.4 M542.9,311.4 L542.9,323.4 M531.5,325.9 L554.2,325.9 L554.2,341.0"/></g><g fill="none" stroke="#1a1a1a" stroke-width="4.30" stroke-linecap="butt" stroke-linejoin="miter" ><path d="M572.4,299.8 L572.4,303.2 M565.7,304.9 L579.0,304.9 M587.4,299.0 L587.4,325.0 M579.9,307.6 L587.4,307.6 M579.9,315.4 L587.4,315.4 M567.3,325.9 L567.3,341.0 L587.7,341.0 L587.7,325.9 M567.3,332.2 L587.7,332.2"/><ellipse cx="572.4" cy="312.8" rx="4.8" ry="4.8"/></g><g fill="none" stroke="#1a1a1a" stroke-width="4.30" stroke-linecap="butt" stroke-linejoin="miter" ><path d="M605.2,299.0 L605.2,302.4 M599.9,304.1 L610.4,304.1 M606.2,318.9 L606.2,331.6 M598.9,331.6 L613.6,331.6 M616.3,299.0 L616.3,341.0"/><ellipse cx="605.2" cy="312.2" rx="3.7" ry="3.7"/></g><text x="0" y="0" transform="translate(641,340) scale(0.900,1)" font-family="Liberation Sans" font-size="37" fill="#111">www.phiko.kr</text><g fill="none" stroke="#f01010" stroke-width="3.20" stroke-linecap="butt" stroke-linejoin="miter" ><path d="M271.1,775.4 L282.6,775.4 L282.6,784.7 M289.9,774.0 L289.9,788.4 M283.4,780.5 L289.9,780.5 M272.4,788.9 L272.4,797.3 L290.2,797.3"/></g><g fill="none" stroke="#f01010" stroke-width="3.20" stroke-linecap="butt" stroke-linejoin="miter" ><path d="M303.2,774.5 L320.0,774.5 L320.0,783.3 M300.5,786.8 L322.7,786.8 M311.6,786.8 L311.6,797.3"/></g><g fill="none" stroke="#f01010" stroke-width="3.20" stroke-linecap="butt" stroke-linejoin="miter" ><path d="M341.9,780.9 L341.9,786.2 M330.8,786.2 L353.0,786.2 M333.0,788.9 L333.0,797.3 L350.8,797.3"/><ellipse cx="341.9" cy="777.8" rx="3.5" ry="3.5"/></g><g fill="none" stroke="#f01010" stroke-width="3.20" stroke-linecap="butt" stroke-linejoin="miter" ><path d="M381.8,774.9 L365.0,774.9 L365.0,786.1 L381.8,786.1 M373.4,787.1 L373.4,796.2 M362.3,796.2 L384.5,796.2"/></g><text x="0" y="0" transform="translate(391.5,797.3) scale(0.8,1)" font-family="Liberation Sans" font-size="33" fill="#f01010" stroke="#f01010" stroke-width="0.9">2</text><text x="0" y="0" transform="translate(409.3,797.3) scale(0.8,1)" font-family="Liberation Sans" font-size="33" fill="#f01010" stroke="#f01010" stroke-width="0.9">0</text><circle cx="433.5" cy="779" r="3.2" fill="none" stroke="#f01010" stroke-width="1.3"/><text x="0" y="0" transform="translate(437,797.3) scale(0.8,1)" font-family="Liberation Sans" font-size="30" fill="#f01010">C</text><path d="M464,790 L466.5,790 L466.5,794 L462.5,801" fill="none" stroke="#f01010" stroke-width="3"/><g fill="none" stroke="#f01010" stroke-width="3.20" stroke-linecap="butt" stroke-linejoin="miter" ><path d="M490.3,784.7 L496.1,775.4 L501.8,784.7 M505.1,774.0 L505.1,788.4 M505.1,780.9 L511.1,780.9"/><ellipse cx="500.5" cy="793.1" rx="3.8" ry="3.8"/></g><g fill="none" stroke="#f01010" stroke-width="3.20" stroke-linecap="butt" stroke-linejoin="miter" ><path d="M533.2,776.3 L521.7,776.3 L521.7,793.8 L533.2,793.8 M535.2,774.0 L535.2,797.3 M535.2,785.2 L538.7,785.2 M541.7,774.0 L541.7,797.3"/></g><g fill="none" stroke="#f01010" stroke-width="3.20" stroke-linecap="butt" stroke-linejoin="miter" ><path d="M553.4,781.7 L561.2,774.0 L569.0,781.7 M550.1,783.5 L572.3,783.5 M552.3,788.9 L552.3,797.3 L570.1,797.3 L570.1,788.9 M552.3,792.4 L570.1,792.4"/></g><g fill="none" stroke="#f01010" stroke-width="3.20" stroke-linecap="butt" stroke-linejoin="miter" ><path d="M599.9,774.9 L583.1,774.9 L583.1,786.1 L599.9,786.1 M591.5,787.1 L591.5,796.2 M580.4,796.2 L602.6,796.2"/></g><text x="0" y="0" transform="translate(610.0,797.3) scale(0.8,1)" font-family="Liberation Sans" font-size="33" fill="#f01010" stroke="#f01010" stroke-width="0.9">5</text><text x="0" y="0" transform="translate(626.5,797.3) scale(0.8,1)" font-family="Liberation Sans" font-size="33" fill="#f01010" stroke="#f01010" stroke-width="0.9">0</text><text x="0" y="0" transform="translate(645.5,797.3) scale(0.8,1)" font-family="Liberation Sans" font-size="33" fill="#f01010" stroke="#f01010" stroke-width="0.9">%</text><g fill="none" stroke="#f01010" stroke-width="3.20" stroke-linecap="butt" stroke-linejoin="miter" ><path d="M707.8,774.0 L707.8,788.4 M692.3,788.9 L710.1,788.9 L710.1,793.1 L692.3,793.1 L692.3,797.3 L710.1,797.3"/><ellipse cx="696.8" cy="780.1" rx="4.3" ry="4.3"/></g><g fill="none" stroke="#f01010" stroke-width="3.20" stroke-linecap="butt" stroke-linejoin="miter" ><path d="M724.9,776.3 L719.9,776.3 L719.9,793.8 L724.9,793.8 M731.4,776.3 L726.3,776.3 L726.3,793.8 L731.4,793.8 M733.4,774.0 L733.4,797.3 M733.4,785.2 L736.9,785.2 M739.9,774.0 L739.9,797.3"/></g><g fill="none" stroke="#f01010" stroke-width="3.20" stroke-linecap="butt" stroke-linejoin="miter" ><path d="M749.4,788.6 L764.9,788.6 M767.8,774.0 L767.8,797.3"/><ellipse cx="756.1" cy="779.7" rx="4.4" ry="4.4"/></g><g fill="none" stroke="#f01010" stroke-width="3.20" stroke-linecap="butt" stroke-linejoin="miter" ><path d="M273.5,816.7 L281.3,809.0 L289.1,816.7 M270.2,818.5 L292.4,818.5 M272.4,823.9 L272.4,832.3 L290.2,832.3 L290.2,823.9 M272.4,827.4 L290.2,827.4"/></g><g fill="none" stroke="#f01010" stroke-width="3.20" stroke-linecap="butt" stroke-linejoin="miter" ><path d="M303.2,809.5 L320.0,809.5 L320.0,818.3 M300.5,821.8 L322.7,821.8 M311.6,821.8 L311.6,832.3"/></g><g fill="none" stroke="#f01010" stroke-width="3.20" stroke-linecap="butt" stroke-linejoin="miter" ><path d="M341.9,815.9 L341.9,821.2 M330.8,821.2 L353.0,821.2 M333.0,823.9 L333.0,832.3 L350.8,832.3"/><ellipse cx="341.9" cy="812.8" rx="3.5" ry="3.5"/></g><g fill="none" stroke="#f01010" stroke-width="3.20" stroke-linecap="butt" stroke-linejoin="miter" ><path d="M381.8,809.9 L365.0,809.9 L365.0,821.1 L381.8,821.1 M373.4,822.1 L373.4,831.2 M362.3,831.2 L384.5,831.2"/></g><g fill="none" stroke="#f01010" stroke-width="3.20" stroke-linecap="butt" stroke-linejoin="miter" ><path d="M400.4,820.1 L400.4,827.1 M392.6,827.1 L408.1,827.1 M409.3,809.0 L409.3,832.3 M409.3,820.2 L414.4,820.2"/><ellipse cx="399.3" cy="814.7" rx="4.4" ry="4.4"/></g><g fill="none" stroke="#f01010" stroke-width="3.20" stroke-linecap="butt" stroke-linejoin="miter" ><path d="M440.8,809.9 L440.8,821.1 L457.6,821.1 M449.2,822.1 L449.2,831.2 M438.1,831.2 L460.3,831.2"/></g><g fill="none" stroke="#f01010" stroke-width="3.20" stroke-linecap="butt" stroke-linejoin="miter" ><path d="M469.3,810.4 L480.8,810.4 M469.3,819.7 L475.1,812.3 L480.8,819.7 M488.1,809.0 L488.1,823.4 M481.6,815.5 L488.1,815.5 M470.6,823.9 L488.4,823.9 L488.4,832.3 L470.6,832.3 L470.6,823.9"/></g><g fill="none" stroke="#f01010" stroke-width="3.20" stroke-linecap="butt" stroke-linejoin="miter" ><path d="M511.1,815.9 L511.1,821.2 M500.0,821.2 L522.2,821.2 M502.2,823.9 L502.2,832.3 L520.0,832.3"/><ellipse cx="511.1" cy="812.8" rx="3.5" ry="3.5"/></g><g fill="none" stroke="#f01010" stroke-width="3.20" stroke-linecap="butt" stroke-linejoin="miter" ><path d="M549.8,809.9 L533.0,809.9 L533.0,821.1 L549.8,821.1 M541.4,822.1 L541.4,831.2 M530.3,831.2 L552.5,831.2"/></g><g fill="none" stroke="#f01010" stroke-width="3.20" stroke-linecap="butt" stroke-linejoin="miter" ><path d="M594.7,809.0 L594.7,823.4 M579.2,823.9 L587.4,823.9 L587.4,828.1 L579.2,828.1 L579.2,832.3 L587.4,832.3 M588.8,823.9 L597.0,823.9 L597.0,832.3"/><ellipse cx="583.7" cy="815.1" rx="4.3" ry="4.3"/></g><g fill="none" stroke="#f01010" stroke-width="3.20" stroke-linecap="butt" stroke-linejoin="miter" ><path d="M610.5,809.0 L610.5,816.7 L626.1,816.7 M607.2,818.5 L629.4,818.5 M609.4,823.9 L609.4,832.3 L627.2,832.3"/></g><g fill="none" stroke="#f01010" stroke-width="3.20" stroke-linecap="butt" stroke-linejoin="miter" ><path d="M654.8,810.4 L654.8,819.7 L666.3,819.7 L666.3,810.4 M654.8,814.3 L666.3,814.3 M669.6,809.0 L669.6,823.4 M669.6,815.9 L675.6,815.9"/><ellipse cx="665.0" cy="828.1" rx="3.8" ry="3.8"/></g><g fill="none" stroke="#f01010" stroke-width="3.20" stroke-linecap="butt" stroke-linejoin="miter" ><path d="M685.1,810.4 L685.1,819.7 L696.6,819.7 L696.6,810.4 M685.1,814.3 L696.6,814.3 M703.9,809.0 L703.9,823.4 M697.4,815.5 L703.9,815.5 M686.4,823.9 L686.4,832.3 L704.2,832.3 L704.2,823.9 M686.4,827.4 L704.2,827.4"/></g><defs><filter id="sh" x="-5%" y="-50%" width="110%" height="200%"><feGaussianBlur stdDeviation="1.6"/></filter></defs><g filter="url(#sh)" opacity="0.55"><path d="M901.1,969.7 L1069.5,1054.7 M780.0,1054.7 L1973.8,1054.5 M1069.5,1054.7 L1070.1,1304.5" fill="none" stroke="#707070" stroke-width="3.4"/><circle cx="901.1" cy="969.7" r="5.6" fill="#707070"/><circle cx="1069.5" cy="1054.7" r="5.6" fill="#707070"/><circle cx="780.0" cy="1054.7" r="5.6" fill="#707070"/><circle cx="1973.8" cy="1054.5" r="5.6" fill="#707070"/></g><g opacity="1"><path d="M898.6,966.2 L1067.0,1051.2 M777.5,1051.2 L1971.3,1051.0 M1067.0,1051.2 L1067.6,1301.0" fill="none" stroke="#f01010" stroke-width="2.3"/><circle cx="898.6" cy="966.2" r="5.6" fill="#f01010"/><circle cx="1067.0" cy="1051.2" r="5.6" fill="#f01010"/><circle cx="777.5" cy="1051.2" r="5.6" fill="#f01010"/><circle cx="1971.3" cy="1051.0" r="5.6" fill="#f01010"/></g><rect x="796" y="949" width="95" height="21" fill="#fff"/><rect x="690" y="1022" width="96" height="21" fill="#fff"/><g fill="none" stroke="#f01010" stroke-width="2.70" stroke-linecap="butt" stroke-linejoin="miter" ><path d="M801.9,957.1 L808.5,951.5 L815.1,957.1 M799.0,958.5 L818.0,958.5 M800.9,962.4 L800.9,968.5 L816.1,968.5 L816.1,962.4 M800.9,965.0 L816.1,965.0"/></g><g fill="none" stroke="#f01010" stroke-width="2.70" stroke-linecap="butt" stroke-linejoin="miter" ><path d="M824.8,951.8 L839.2,951.8 L839.2,958.3 M822.5,960.9 L841.5,960.9 M832.0,960.9 L832.0,968.5"/></g><g fill="none" stroke="#f01010" stroke-width="2.70" stroke-linecap="butt" stroke-linejoin="miter" ><path d="M855.5,956.5 L855.5,960.4 M846.0,960.4 L865.0,960.4 M847.9,962.4 L847.9,968.5 L863.1,968.5"/><ellipse cx="855.5" cy="954.3" rx="2.5" ry="2.5"/></g><g fill="none" stroke="#f01010" stroke-width="2.70" stroke-linecap="butt" stroke-linejoin="miter" ><path d="M886.2,952.2 L871.8,952.2 L871.8,960.3 L886.2,960.3 M879.0,961.1 L879.0,967.7 M869.5,967.7 L888.5,967.7"/></g><g fill="none" stroke="#f01010" stroke-width="2.70" stroke-linecap="butt" stroke-linejoin="miter" ><path d="M695.3,1025.2 L695.3,1033.3 L709.7,1033.3 M702.5,1034.1 L702.5,1040.7 M693.0,1040.7 L712.0,1040.7"/></g><g fill="none" stroke="#f01010" stroke-width="2.70" stroke-linecap="butt" stroke-linejoin="miter" ><path d="M717.3,1025.5 L727.1,1025.5 M717.3,1032.3 L722.2,1026.9 L727.1,1032.3 M733.4,1024.5 L733.4,1035.0 M727.8,1029.2 L733.4,1029.2 M718.4,1035.4 L733.6,1035.4 L733.6,1041.5 L718.4,1041.5 L718.4,1035.4"/></g><g fill="none" stroke="#f01010" stroke-width="2.70" stroke-linecap="butt" stroke-linejoin="miter" ><path d="M749.5,1029.5 L749.5,1033.4 M740.0,1033.4 L759.0,1033.4 M741.9,1035.4 L741.9,1041.5 L757.1,1041.5"/><ellipse cx="749.5" cy="1027.3" rx="2.5" ry="2.5"/></g><g fill="none" stroke="#f01010" stroke-width="2.70" stroke-linecap="butt" stroke-linejoin="miter" ><path d="M780.2,1025.2 L765.8,1025.2 L765.8,1033.3 L780.2,1033.3 M773.0,1034.1 L773.0,1040.7 M763.5,1040.7 L782.5,1040.7"/></g>
</svg></body></html>
